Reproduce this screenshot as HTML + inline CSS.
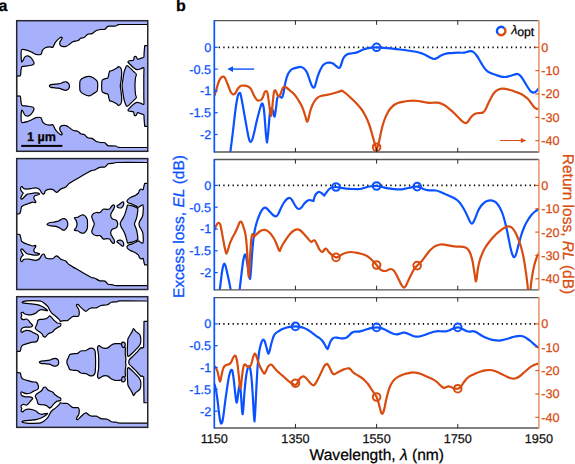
<!DOCTYPE html>
<html><head><meta charset="utf-8"><title>figure</title>
<style>html,body{margin:0;padding:0;background:#fff;overflow:hidden}svg{display:block}</style>
</head><body>
<svg width="575" height="464" viewBox="0 0 575 464">
<rect width="575" height="464" fill="#fff"/>
<clipPath id="cp0"><rect x="16.7" y="20.7" width="131.05" height="130.6"/></clipPath>
<g clip-path="url(#cp0)">
<rect x="16.7" y="20.7" width="131.05" height="130.6" fill="#A7B0FB"/>
<path d="M16.6 75.7C16.6 75.7 19.71 76.43 20.3 75.7C20.89 74.97 20.76 71.41 21 70.2C21.24 68.99 21.27 67.17 22.1 66.6C22.93 66.03 25.83 66.11 27.2 65.9C28.57 65.69 31.48 65.35 32.4 65C33.32 64.65 34.1 64.03 34.1 63.3C34.1 62.57 32.97 60.38 32.4 59.5C31.83 58.62 30.49 57.18 29.8 56.7C29.11 56.22 27.88 55.83 27.2 55.9C26.52 55.97 25.27 56.56 24.7 57.2C24.13 57.84 23.3 60.07 22.9 60.7C22.5 61.33 21.7 61.9 21.7 61.9C21.7 61.9 21.27 59.53 21.2 58.1C21.13 56.67 21.08 52.35 21.2 51.2C21.32 50.05 21.3 49.62 22.1 49.5C22.9 49.38 25.93 49.95 27.2 50.3C28.47 50.65 30.44 51.57 31.6 52.1C32.76 52.63 34.65 54.01 35.9 54.3C37.15 54.59 40.13 54.83 41 54.3C41.87 53.77 41.83 51.17 42.4 50.3C42.97 49.43 44.33 48.25 45.3 47.8C46.27 47.35 48.7 46.98 49.7 46.9C50.7 46.82 52.07 47.77 52.8 47.2C53.53 46.63 54.47 43.68 55.2 42.6C55.93 41.52 57.5 39.83 58.3 39.1C59.1 38.37 60.69 37.21 61.2 37.1C61.71 36.99 62.26 37.69 62.1 38.3C61.94 38.91 60.28 40.85 60 41.7C59.72 42.55 59.72 44.07 60 44.7C60.28 45.33 61.3 46.17 62.1 46.4C62.9 46.63 65.01 46.68 66 46.4C66.99 46.12 68.58 44.93 69.5 44.3C70.42 43.67 71.75 42.21 72.9 41.7C74.05 41.19 77.06 40.95 78.1 40.5C79.14 40.05 79.87 38.71 80.7 38.3C81.53 37.89 83.35 37.93 84.3 37.4C85.25 36.87 86.76 34.81 87.8 34.3C88.84 33.79 90.95 34.11 92.1 33.6C93.25 33.09 95.25 31.05 96.4 30.5C97.55 29.95 99.58 29.66 100.7 29.5C101.82 29.34 103.85 29.71 104.8 29.3C105.75 28.89 106.97 26.81 107.8 26.4C108.63 25.99 109.95 26.25 111 26.2C112.05 26.15 114.73 26.21 115.7 26C116.67 25.79 117.09 24.8 118.3 24.6C119.51 24.4 120.87 24.51 124.8 24.5C128.73 24.49 147.75 24.5 147.75 24.5C147.75 24.5 147.75 45.7 147.75 45.7C147.75 45.7 144.7 45.7 144.7 45.7C144.7 45.7 144.22 51.37 144.1 52.9C143.98 54.43 144.19 56.51 143.8 57.2C143.41 57.89 142 57.82 141.2 58.1C140.4 58.38 138.49 59.5 137.8 59.3C137.11 59.1 136.47 56.92 136 56.6C135.53 56.28 134.65 56.42 134.3 56.9C133.95 57.38 134.07 59.68 133.4 60.2C132.73 60.72 130.02 60.56 129.3 60.8C128.58 61.04 127.88 61.51 128 62C128.12 62.49 129.45 63.74 130.2 64.5C130.95 65.26 132.69 67.02 133.6 67.7C134.51 68.38 136.05 69.45 137 69.6C137.95 69.75 139.79 69.04 140.7 68.8C141.61 68.56 143.39 66.84 143.8 67.8C144.21 68.76 143.8 72.24 143.8 76C143.8 79.76 143.8 92.24 143.8 96C143.8 99.76 144.21 103.24 143.8 104.2C143.39 105.16 141.61 103.44 140.7 103.2C139.79 102.96 137.95 102.25 137 102.4C136.05 102.55 134.51 103.62 133.6 104.3C132.69 104.98 130.95 106.74 130.2 107.5C129.45 108.26 128.12 109.51 128 110C127.88 110.49 128.58 110.96 129.3 111.2C130.02 111.44 132.73 111.28 133.4 111.8C134.07 112.32 133.95 114.62 134.3 115.1C134.65 115.58 135.53 115.72 136 115.4C136.47 115.08 137.11 112.9 137.8 112.7C138.49 112.5 140.4 113.62 141.2 113.9C142 114.18 143.41 114.11 143.8 114.8C144.19 115.49 143.98 117.57 144.1 119.1C144.22 120.63 144.7 126.3 144.7 126.3C144.7 126.3 147.75 126.3 147.75 126.3C147.75 126.3 147.75 147.5 147.75 147.5C147.75 147.5 128.73 147.51 124.8 147.5C120.87 147.49 119.51 147.6 118.3 147.4C117.09 147.2 116.67 146.21 115.7 146C114.73 145.79 112.05 145.85 111 145.8C109.95 145.75 108.63 146.01 107.8 145.6C106.97 145.19 105.75 143.11 104.8 142.7C103.85 142.29 101.82 142.66 100.7 142.5C99.58 142.34 97.55 142.05 96.4 141.5C95.25 140.95 93.25 138.91 92.1 138.4C90.95 137.89 88.84 138.21 87.8 137.7C86.76 137.19 85.25 135.13 84.3 134.6C83.35 134.07 81.53 134.11 80.7 133.7C79.87 133.29 79.14 131.95 78.1 131.5C77.06 131.05 74.05 130.81 72.9 130.3C71.75 129.79 70.42 128.33 69.5 127.7C68.58 127.07 66.99 125.88 66 125.6C65.01 125.32 62.9 125.37 62.1 125.6C61.3 125.83 60.28 126.67 60 127.3C59.72 127.93 59.72 129.45 60 130.3C60.28 131.15 61.94 133.09 62.1 133.7C62.26 134.31 61.71 135.01 61.2 134.9C60.69 134.79 59.1 133.63 58.3 132.9C57.5 132.17 55.93 130.48 55.2 129.4C54.47 128.32 53.53 125.37 52.8 124.8C52.07 124.23 50.7 125.18 49.7 125.1C48.7 125.02 46.27 124.65 45.3 124.2C44.33 123.75 42.97 122.57 42.4 121.7C41.83 120.83 41.87 118.23 41 117.7C40.13 117.17 37.15 117.41 35.9 117.7C34.65 117.99 32.76 119.37 31.6 119.9C30.44 120.43 28.47 121.35 27.2 121.7C25.93 122.05 22.9 122.62 22.1 122.5C21.3 122.38 21.32 121.95 21.2 120.8C21.08 119.65 21.13 115.33 21.2 113.9C21.27 112.47 21.7 110.1 21.7 110.1C21.7 110.1 22.5 110.67 22.9 111.3C23.3 111.93 24.13 114.16 24.7 114.8C25.27 115.44 26.52 116.03 27.2 116.1C27.88 116.17 29.11 115.78 29.8 115.3C30.49 114.82 31.83 113.38 32.4 112.5C32.97 111.62 34.1 109.43 34.1 108.7C34.1 107.97 33.32 107.35 32.4 107C31.48 106.65 28.57 106.31 27.2 106.1C25.83 105.89 22.93 105.97 22.1 105.4C21.27 104.83 21.24 103.01 21 101.8C20.76 100.59 20.89 97.03 20.3 96.3C19.71 95.57 16.6 96.3 16.6 96.3C16.6 96.3 16.6 75.7 16.6 75.7Z" fill="#fff" stroke="#000" stroke-width="1.2" stroke-linejoin="round"/>
<path d="M49.3 86C49.3 85.63 50.37 84.83 51 84.6C51.63 84.37 53.07 84.39 54 84.3C54.93 84.21 57.07 84.05 58 83.9C58.93 83.75 60.27 83.43 61 83.2C61.73 82.97 62.83 82.39 63.5 82.2C64.17 82.01 65.33 81.65 66 81.8C66.67 81.95 68.03 82.74 68.5 83.3C68.97 83.86 69.5 85.27 69.5 86C69.5 86.73 68.97 88.23 68.5 88.8C68.03 89.37 66.67 90.15 66 90.3C65.33 90.45 64.17 90.09 63.5 89.9C62.83 89.71 61.73 89.13 61 88.9C60.27 88.67 58.93 88.36 58 88.2C57.07 88.04 54.93 87.81 54 87.7C53.07 87.59 51.63 87.63 51 87.4C50.37 87.17 49.3 86.37 49.3 86Z" fill="#A7B0FB" stroke="#000" stroke-width="1.2" stroke-linejoin="round"/>
<path d="M79.7 85.7C79.7 84.22 79.66 81.31 80.3 80.2C80.94 79.09 83.29 77.91 84.5 77.4C85.71 76.89 88.19 76.31 89.4 76.4C90.61 76.49 92.55 77.41 93.6 78.1C94.65 78.79 96.75 80.49 97.3 81.6C97.85 82.71 97.74 85.11 97.7 86.4C97.66 87.69 97.55 90.37 97 91.3C96.45 92.23 94.61 92.79 93.6 93.4C92.59 94.01 90.61 95.75 89.4 95.9C88.19 96.05 85.71 95.11 84.5 94.5C83.29 93.89 80.94 92.47 80.3 91.3C79.66 90.13 79.7 87.18 79.7 85.7Z" fill="#A7B0FB" stroke="#000" stroke-width="1.2" stroke-linejoin="round"/>
<path d="M101.6 86C101.6 84.48 101.71 81.29 102.2 80.3C102.69 79.31 104.54 78.93 105.3 78.6C106.06 78.27 107.43 78.37 107.9 77.8C108.37 77.23 108.56 75.18 108.8 74.3C109.04 73.42 109.25 71.71 109.7 71.2C110.15 70.69 111.28 70.89 112.2 70.5C113.12 70.11 115.79 68.82 116.6 68.3C117.41 67.78 117.73 66.6 118.3 66.6C118.87 66.6 120.45 67.5 120.9 68.3C121.35 69.1 121.66 71.11 121.7 72.6C121.74 74.09 121.39 77.71 121.2 79.5C121.01 81.29 120.3 84.27 120.3 86C120.3 87.73 121.01 90.71 121.2 92.5C121.39 94.29 121.74 97.91 121.7 99.4C121.66 100.89 121.35 102.9 120.9 103.7C120.45 104.5 118.87 105.4 118.3 105.4C117.73 105.4 117.41 104.22 116.6 103.7C115.79 103.18 113.12 101.89 112.2 101.5C111.28 101.11 110.15 101.31 109.7 100.8C109.25 100.29 109.04 98.58 108.8 97.7C108.56 96.82 108.37 94.77 107.9 94.2C107.43 93.63 106.06 93.73 105.3 93.4C104.54 93.07 102.69 92.69 102.2 91.7C101.71 90.71 101.6 87.52 101.6 86Z" fill="#A7B0FB" stroke="#000" stroke-width="1.2" stroke-linejoin="round"/>
<path d="M122.1 86C122.1 84.27 122.65 81.29 122.9 79.5C123.15 77.71 123.63 74.21 124 72.6C124.37 70.99 125.31 68.32 125.7 67.4C126.09 66.48 126.39 65.7 126.9 65.7C127.41 65.7 128.58 66.6 129.5 67.4C130.42 68.2 132.88 70.78 133.8 71.7C134.72 72.62 136.17 73.49 136.4 74.3C136.63 75.11 135.69 76.24 135.5 77.8C135.31 79.36 135 83.81 135 86C135 88.19 135.31 92.64 135.5 94.2C135.69 95.76 136.63 96.89 136.4 97.7C136.17 98.51 134.72 99.38 133.8 100.3C132.88 101.22 130.42 103.8 129.5 104.6C128.58 105.4 127.41 106.3 126.9 106.3C126.39 106.3 126.09 105.52 125.7 104.6C125.31 103.68 124.37 101.01 124 99.4C123.63 97.79 123.15 94.29 122.9 92.5C122.65 90.71 122.1 87.73 122.1 86Z" fill="#A7B0FB" stroke="#000" stroke-width="1.2" stroke-linejoin="round"/>
</g>
<rect x="16.7" y="20.7" width="131.05" height="130.6" fill="none" stroke="#26262c" stroke-width="1.5"/>
<clipPath id="cp1"><rect x="16.7" y="158.6" width="131.05" height="130.9"/></clipPath>
<g clip-path="url(#cp1)">
<rect x="16.7" y="158.6" width="131.05" height="130.9" fill="#A7B0FB"/>
<path d="M16.6 213.6C16.6 213.6 19.14 214.04 19.7 213.6C20.26 213.16 20.56 211.19 20.8 210.3C21.04 209.41 21.02 207.61 21.5 206.9C21.98 206.19 23.45 205.45 24.4 205C25.35 204.55 27.48 203.89 28.6 203.5C29.72 203.11 31.89 202.21 32.8 202.1C33.71 201.99 35.01 202.79 35.4 202.7C35.79 202.61 35.85 201.85 35.7 201.4C35.55 200.95 34.55 199.82 34.3 199.3C34.05 198.78 33.72 197.98 33.8 197.5C33.88 197.02 34.41 196.03 34.9 195.7C35.39 195.37 36.89 195.2 37.5 195C38.11 194.8 39.5 194.2 39.5 194.2C39.5 194.2 39.11 193.37 38.5 193.2C37.89 193.03 35.94 192.85 34.9 192.9C33.86 192.95 31.75 193.4 30.7 193.6C29.65 193.8 27.76 194.05 27 194.4C26.24 194.75 25.48 195.73 25 196.2C24.52 196.67 23.83 197.5 23.4 197.9C22.97 198.3 22.16 199.19 21.8 199.2C21.44 199.21 20.71 198.47 20.7 198C20.69 197.53 21.37 196.35 21.7 195.7C22.03 195.05 23.19 193.63 23.2 193.1C23.21 192.57 22.15 192.19 21.8 191.7C21.45 191.21 20.73 190 20.6 189.4C20.47 188.8 20.6 187.57 20.8 187.2C21 186.83 21.73 186.43 22.1 186.6C22.47 186.77 23.01 188.17 23.6 188.5C24.19 188.83 25.55 189.07 26.5 189.1C27.45 189.13 29.58 188.87 30.7 188.7C31.82 188.53 33.95 187.87 34.9 187.8C35.85 187.73 37.11 187.89 37.8 188.2C38.49 188.51 39.58 189.46 40.1 190.1C40.62 190.74 41.29 192.47 41.7 193C42.11 193.53 42.83 194.05 43.2 194.1C43.57 194.15 44.22 193.81 44.5 193.4C44.78 192.99 44.91 191.51 45.3 191C45.69 190.49 46.71 189.84 47.4 189.6C48.09 189.36 49.74 189.2 50.5 189.2C51.26 189.2 52.47 189.29 53.1 189.6C53.73 189.91 54.71 191.14 55.2 191.5C55.69 191.86 56.39 192.33 56.8 192.3C57.21 192.27 57.82 191.71 58.3 191.3C58.78 190.89 59.77 189.63 60.4 189.2C61.03 188.77 62.29 188.38 63 188.1C63.71 187.82 64.85 187.74 65.7 187.1C66.55 186.46 68.07 184.31 69.4 183.3C70.73 182.29 73.89 180.57 75.7 179.5C77.51 178.43 80.92 176.49 83 175.3C85.08 174.11 89.78 171.29 91.3 170.6C92.82 169.91 93.28 170.54 94.4 170.1C95.52 169.66 98.3 167.71 99.7 167.3C101.1 166.89 103.75 167.47 104.9 167C106.05 166.53 107.23 164.29 108.3 163.8C109.37 163.31 111.74 163.47 112.9 163.3C114.06 163.13 112.35 162.61 117 162.5C121.65 162.39 147.75 162.5 147.75 162.5C147.75 162.5 147.75 183.3 147.75 183.3C147.75 183.3 144.7 183.3 144.7 183.3C144.7 183.3 144.11 185.46 143.9 186.3C143.69 187.14 143.49 189.21 143.1 189.6C142.71 189.99 141.48 189.09 141 189.2C140.52 189.31 139.85 189.89 139.5 190.4C139.15 190.91 138.96 192.33 138.4 193C137.84 193.67 136.27 194.84 135.3 195.4C134.33 195.96 132.07 196.68 131.1 197.2C130.13 197.72 128.55 198.74 128 199.3C127.45 199.86 126.93 200.91 127 201.4C127.07 201.89 127.81 202.63 128.5 203C129.19 203.37 131.23 203.81 132.2 204.2C133.17 204.59 134.97 205.49 135.8 205.9C136.63 206.31 137.71 207.34 138.4 207.3C139.09 207.26 140.4 205.91 141 205.6C141.6 205.29 142.59 204.65 142.9 205C143.21 205.35 143.27 207.23 143.3 208.2C143.33 209.17 143.19 211.26 143.1 212.3C143.01 213.34 142.88 215.09 142.6 216C142.32 216.91 141.41 218.34 141 219.1C140.59 219.86 139.77 221.04 139.5 221.7C139.23 222.36 139.07 223.74 139 224.05C138.93 224.36 138.93 223.74 139 224.05C139.07 224.36 139.23 225.74 139.5 226.4C139.77 227.06 140.59 228.24 141 229C141.41 229.76 142.32 231.19 142.6 232.1C142.88 233.01 143.01 234.76 143.1 235.8C143.19 236.84 143.33 238.93 143.3 239.9C143.27 240.87 143.21 242.75 142.9 243.1C142.59 243.45 141.6 242.81 141 242.5C140.4 242.19 139.09 240.84 138.4 240.8C137.71 240.76 136.63 241.79 135.8 242.2C134.97 242.61 133.17 243.51 132.2 243.9C131.23 244.29 129.19 244.73 128.5 245.1C127.81 245.47 127.07 246.21 127 246.7C126.93 247.19 127.45 248.24 128 248.8C128.55 249.36 130.13 250.38 131.1 250.9C132.07 251.42 134.33 252.14 135.3 252.7C136.27 253.26 137.84 254.43 138.4 255.1C138.96 255.77 139.15 257.19 139.5 257.7C139.85 258.21 140.52 258.79 141 258.9C141.48 259.01 142.71 258.11 143.1 258.5C143.49 258.89 143.69 260.96 143.9 261.8C144.11 262.64 144.7 264.8 144.7 264.8C144.7 264.8 147.75 264.8 147.75 264.8C147.75 264.8 147.75 285.6 147.75 285.6C147.75 285.6 121.65 285.71 117 285.6C112.35 285.49 114.06 284.97 112.9 284.8C111.74 284.63 109.37 284.79 108.3 284.3C107.23 283.81 106.05 281.57 104.9 281.1C103.75 280.63 101.1 281.21 99.7 280.8C98.3 280.39 95.52 278.44 94.4 278C93.28 277.56 92.82 278.19 91.3 277.5C89.78 276.81 85.08 273.99 83 272.8C80.92 271.61 77.51 269.67 75.7 268.6C73.89 267.53 70.73 265.81 69.4 264.8C68.07 263.79 66.55 261.64 65.7 261C64.85 260.36 63.71 260.28 63 260C62.29 259.72 61.03 259.33 60.4 258.9C59.77 258.47 58.78 257.21 58.3 256.8C57.82 256.39 57.21 255.83 56.8 255.8C56.39 255.77 55.69 256.24 55.2 256.6C54.71 256.96 53.73 258.19 53.1 258.5C52.47 258.81 51.26 258.9 50.5 258.9C49.74 258.9 48.09 258.74 47.4 258.5C46.71 258.26 45.69 257.61 45.3 257.1C44.91 256.59 44.78 255.11 44.5 254.7C44.22 254.29 43.57 253.95 43.2 254C42.83 254.05 42.11 254.57 41.7 255.1C41.29 255.63 40.62 257.36 40.1 258C39.58 258.64 38.49 259.59 37.8 259.9C37.11 260.21 35.85 260.37 34.9 260.3C33.95 260.23 31.82 259.57 30.7 259.4C29.58 259.23 27.45 258.97 26.5 259C25.55 259.03 24.19 259.27 23.6 259.6C23.01 259.93 22.47 261.33 22.1 261.5C21.73 261.67 21 261.27 20.8 260.9C20.6 260.53 20.47 259.3 20.6 258.7C20.73 258.1 21.45 256.89 21.8 256.4C22.15 255.91 23.21 255.53 23.2 255C23.19 254.47 22.03 253.05 21.7 252.4C21.37 251.75 20.69 250.57 20.7 250.1C20.71 249.63 21.44 248.89 21.8 248.9C22.16 248.91 22.97 249.8 23.4 250.2C23.83 250.6 24.52 251.43 25 251.9C25.48 252.37 26.24 253.35 27 253.7C27.76 254.05 29.65 254.3 30.7 254.5C31.75 254.7 33.86 255.15 34.9 255.2C35.94 255.25 37.89 255.07 38.5 254.9C39.11 254.73 39.5 253.9 39.5 253.9C39.5 253.9 38.11 253.3 37.5 253.1C36.89 252.9 35.39 252.73 34.9 252.4C34.41 252.07 33.88 251.08 33.8 250.6C33.72 250.12 34.05 249.32 34.3 248.8C34.55 248.28 35.55 247.15 35.7 246.7C35.85 246.25 35.79 245.49 35.4 245.4C35.01 245.31 33.71 246.11 32.8 246C31.89 245.89 29.72 244.99 28.6 244.6C27.48 244.21 25.35 243.55 24.4 243.1C23.45 242.65 21.98 241.91 21.5 241.2C21.02 240.49 21.04 238.69 20.8 237.8C20.56 236.91 20.26 234.94 19.7 234.5C19.14 234.06 16.6 234.5 16.6 234.5C16.6 234.5 16.6 213.6 16.6 213.6Z" fill="#fff" stroke="#000" stroke-width="1.2" stroke-linejoin="round"/>
<path d="M47.2 224.2C47.41 223.89 48.26 223.01 49.3 222.7C50.34 222.39 53.68 222.17 55 221.9C56.32 221.63 58.29 221.09 59.2 220.7C60.11 220.31 61.11 219.28 61.8 219C62.49 218.72 63.75 218.43 64.4 218.6C65.05 218.77 66.25 219.58 66.7 220.3C67.15 221.02 67.76 223.07 67.8 224C67.84 224.93 67.37 226.54 67 227.3C66.63 228.06 65.55 229.33 65 229.7C64.45 230.07 63.53 230.3 62.9 230.1C62.27 229.9 61.21 228.71 60.3 228.2C59.39 227.69 57.35 226.61 56.1 226.3C54.85 225.99 52.02 226.07 50.9 225.9C49.78 225.73 48.19 225.23 47.7 225C47.21 224.77 46.99 224.51 47.2 224.2Z" fill="#A7B0FB" stroke="#000" stroke-width="1.2" stroke-linejoin="round"/>
<path d="M74.3 217.8C74.5 217.39 76.68 217.65 77.6 217.3C78.52 216.95 80.37 215.51 81.2 215.2C82.03 214.89 83.13 214.72 83.8 215C84.47 215.28 85.72 216.61 86.2 217.3C86.68 217.99 87.23 219.3 87.4 220.2C87.57 221.1 87.5 223.02 87.5 224.05C87.5 225.08 87.57 227 87.4 227.9C87.23 228.8 86.68 230.11 86.2 230.8C85.72 231.49 84.47 232.82 83.8 233.1C83.13 233.38 82.03 233.21 81.2 232.9C80.37 232.59 78.52 231.15 77.6 230.8C76.68 230.45 74.5 230.71 74.3 230.3C74.1 229.89 75.73 228.53 76.1 227.7C76.47 226.87 77.1 225.02 77.1 224.05C77.1 223.08 76.47 221.23 76.1 220.4C75.73 219.57 74.1 218.21 74.3 217.8Z" fill="#A7B0FB" stroke="#000" stroke-width="1.2" stroke-linejoin="round"/>
<path d="M94.3 224.05C94.3 222.97 93.15 221.03 92.8 220C92.45 218.97 91.63 217.14 91.7 216.3C91.77 215.46 92.67 214.21 93.3 213.7C93.93 213.19 95.49 212.66 96.4 212.5C97.31 212.34 99.33 212.82 100.1 212.5C100.87 212.18 101.72 210.57 102.2 210.1C102.68 209.63 103.07 209.09 103.7 209C104.33 208.91 106.13 209.4 106.9 209.4C107.67 209.4 108.95 209.32 109.5 209C110.05 208.68 110.59 207.51 111 207C111.41 206.49 112.2 205.48 112.6 205.2C113 204.92 113.75 204.74 114 204.9C114.25 205.06 114.54 205.85 114.5 206.4C114.46 206.95 114.02 208.29 113.7 209C113.38 209.71 112.49 210.99 112.1 211.7C111.71 212.41 110.95 213.61 110.8 214.3C110.65 214.99 110.76 216.27 111 216.9C111.24 217.53 111.97 218.59 112.6 219C113.23 219.41 115.07 219.63 115.7 220C116.33 220.37 117.05 221.26 117.3 221.8C117.55 222.34 117.6 223.45 117.6 224.05C117.6 224.65 117.55 225.76 117.3 226.3C117.05 226.84 116.33 227.73 115.7 228.1C115.07 228.47 113.23 228.69 112.6 229.1C111.97 229.51 111.24 230.57 111 231.2C110.76 231.83 110.65 233.11 110.8 233.8C110.95 234.49 111.71 235.69 112.1 236.4C112.49 237.11 113.38 238.39 113.7 239.1C114.02 239.81 114.46 241.15 114.5 241.7C114.54 242.25 114.25 243.04 114 243.2C113.75 243.36 113 243.18 112.6 242.9C112.2 242.62 111.41 241.61 111 241.1C110.59 240.59 110.05 239.42 109.5 239.1C108.95 238.78 107.67 238.7 106.9 238.7C106.13 238.7 104.33 239.19 103.7 239.1C103.07 239.01 102.68 238.47 102.2 238C101.72 237.53 100.87 235.92 100.1 235.6C99.33 235.28 97.31 235.76 96.4 235.6C95.49 235.44 93.93 234.91 93.3 234.4C92.67 233.89 91.77 232.64 91.7 231.8C91.63 230.96 92.45 229.13 92.8 228.1C93.15 227.07 94.3 225.13 94.3 224.05Z" fill="#A7B0FB" stroke="#000" stroke-width="1.2" stroke-linejoin="round"/>
<path d="M117 206.1C117.2 205.73 118.47 204.99 119.1 204.5C119.73 204.01 121.17 202.75 121.7 202.4C122.23 202.05 122.82 201.75 123.1 201.9C123.38 202.05 123.8 202.94 123.8 203.5C123.8 204.06 123.38 205.54 123.1 206.1C122.82 206.66 122.15 207.45 121.7 207.7C121.25 207.95 120.25 208.05 119.7 208C119.15 207.95 117.96 207.55 117.6 207.3C117.24 207.05 116.8 206.47 117 206.1Z" fill="#A7B0FB" stroke="#000" stroke-width="1.2" stroke-linejoin="round"/>
<path d="M117 242C117.2 242.37 118.47 243.11 119.1 243.6C119.73 244.09 121.17 245.35 121.7 245.7C122.23 246.05 122.82 246.35 123.1 246.2C123.38 246.05 123.8 245.16 123.8 244.6C123.8 244.04 123.38 242.56 123.1 242C122.82 241.44 122.15 240.65 121.7 240.4C121.25 240.15 120.25 240.05 119.7 240.1C119.15 240.15 117.96 240.55 117.6 240.8C117.24 241.05 116.8 241.63 117 242Z" fill="#A7B0FB" stroke="#000" stroke-width="1.2" stroke-linejoin="round"/>
<path d="M120.2 224.05C120.2 223.16 120.99 221.56 121.4 220.7C121.81 219.84 122.79 218.57 123.3 217.6C123.81 216.63 124.79 214.52 125.2 213.4C125.61 212.28 126.09 210.32 126.4 209.2C126.71 208.08 127.5 205 127.5 205C127.5 205 131.09 205.59 132.2 205.9C133.31 206.21 135.04 206.93 135.8 207.3C136.56 207.67 137.9 208.7 137.9 208.7C137.9 208.7 137.76 211.11 137.6 212.3C137.44 213.49 137.05 216.27 136.7 217.6C136.35 218.93 135.31 221.44 135 222.3C134.69 223.16 134.4 223.58 134.4 224.05C134.4 224.52 134.69 224.94 135 225.8C135.31 226.66 136.35 229.17 136.7 230.5C137.05 231.83 137.44 234.61 137.6 235.8C137.76 236.99 137.9 239.4 137.9 239.4C137.9 239.4 136.56 240.43 135.8 240.8C135.04 241.17 133.31 241.89 132.2 242.2C131.09 242.51 127.5 243.1 127.5 243.1C127.5 243.1 126.71 240.02 126.4 238.9C126.09 237.78 125.61 235.82 125.2 234.7C124.79 233.58 123.81 231.47 123.3 230.5C122.79 229.53 121.81 228.26 121.4 227.4C120.99 226.54 120.2 224.94 120.2 224.05Z" fill="#A7B0FB" stroke="#000" stroke-width="1.2" stroke-linejoin="round"/>
</g>
<rect x="16.7" y="158.6" width="131.05" height="130.9" fill="none" stroke="#26262c" stroke-width="1.5"/>
<clipPath id="cp2"><rect x="16.7" y="296.7" width="131.05" height="130.65"/></clipPath>
<g clip-path="url(#cp2)">
<rect x="16.7" y="296.7" width="131.05" height="130.65" fill="#A7B0FB"/>
<path d="M16.6 351.4C16.6 351.4 19.69 351.57 20.3 351C20.91 350.43 20.85 347.9 21.2 347.1C21.55 346.3 22.1 345.47 22.9 345C23.7 344.53 25.93 343.97 27.2 343.6C28.47 343.23 31.24 342.43 32.4 342.2C33.56 341.97 35.21 342.13 35.9 341.9C36.59 341.67 37.6 340.5 37.6 340.5C37.6 340.5 38.51 337.57 38.5 336.8C38.49 336.03 38.13 335.22 37.5 334.7C36.87 334.18 34.71 333.38 33.8 332.9C32.89 332.42 31.67 331.43 30.7 331.1C29.73 330.77 27.47 330.36 26.5 330.4C25.53 330.44 24.04 331.15 23.4 331.4C22.76 331.65 22.03 332.41 21.7 332.3C21.37 332.19 20.85 331.15 20.9 330.6C20.95 330.05 21.49 328.65 22.1 328.2C22.71 327.75 24.49 327.33 25.5 327.2C26.51 327.07 28.85 327.29 29.7 327.2C30.55 327.11 31.51 326.75 31.9 326.5C32.29 326.25 32.76 325.74 32.6 325.3C32.44 324.86 31.23 323.83 30.7 323.2C30.17 322.57 29.16 321.16 28.6 320.6C28.04 320.04 27.19 319.13 26.5 319C25.81 318.87 24.09 319.67 23.4 319.6C22.71 319.53 21.61 318.85 21.3 318.5C20.99 318.15 21.03 317.41 21.1 317C21.17 316.59 21.8 315.89 21.8 315.4C21.8 314.91 21.14 313.69 21.1 313.3C21.06 312.91 21.22 312.62 21.5 312.5C21.78 312.38 22.81 312.23 23.2 312.4C23.59 312.57 23.68 313.47 24.4 313.8C25.12 314.13 27.48 314.83 28.6 314.9C29.72 314.97 31.76 314.58 32.8 314.3C33.84 314.02 35.64 313.28 36.4 312.8C37.16 312.32 37.79 311.11 38.5 310.7C39.21 310.29 40.79 309.74 41.7 309.7C42.61 309.66 44.51 310.27 45.3 310.4C46.09 310.53 47.6 310.7 47.6 310.7C47.6 310.7 46.74 309.7 46.3 309.3C45.86 308.9 44.99 308.14 44.3 307.7C43.61 307.26 42.07 306.4 41.1 306C40.13 305.6 38.25 304.98 37 304.7C35.75 304.42 33.1 304.07 31.7 303.9C30.3 303.73 27.67 303.53 26.5 303.4C25.33 303.27 23.46 303.1 22.9 302.9C22.34 302.7 21.82 302.17 22.3 301.9C22.78 301.63 25.1 301.06 26.5 300.9C27.9 300.74 30.92 300.67 32.8 300.7C34.68 300.73 39.07 300.77 40.6 301.1C42.13 301.43 43.33 302.45 44.3 303.2C45.27 303.95 47.14 305.7 47.9 306.7C48.66 307.7 49.4 309.75 50 310.7C50.6 311.65 51.64 313.07 52.4 313.8C53.16 314.53 54.81 315.45 55.7 316.2C56.59 316.95 58.49 318.72 59.1 319.4C59.71 320.08 60.3 321.3 60.3 321.3C60.3 321.3 62.94 320.69 63.9 320.6C64.86 320.51 66.59 320.95 67.5 320.6C68.41 320.25 69.93 318.56 70.7 318C71.47 317.44 72.33 316.61 73.3 316.4C74.27 316.19 77.21 316.68 78 316.4C78.79 316.12 79.09 315.19 79.2 314.3C79.31 313.41 79.11 310.74 78.8 309.7C78.49 308.66 77.22 307.13 76.9 306.5C76.58 305.87 76.25 305.25 76.4 305C76.55 304.75 77.37 304.25 78 304.6C78.63 304.95 80.21 306.79 81.1 307.6C81.99 308.41 84.01 310.22 84.7 310.7C85.39 311.18 85.74 311.41 86.3 311.2C86.86 310.99 88.21 309.54 88.9 309.1C89.59 308.66 90.5 308.06 91.5 307.9C92.5 307.74 95.15 308.22 96.4 307.9C97.65 307.58 99.43 305.91 100.9 305.5C102.37 305.09 106.01 305.23 107.4 304.8C108.79 304.37 110.02 302.7 111.3 302.3C112.58 301.9 115.81 301.99 117 301.8C118.19 301.61 116.1 301.01 120.2 300.9C124.3 300.79 147.75 301 147.75 301C147.75 301 147.75 321.3 147.75 321.3C147.75 321.3 144 321.3 144 321.3C144 321.3 143.7 347 143.7 347C143.7 347 142.37 348.11 142 348.2C141.63 348.29 141.53 347.22 140.9 347.7C140.27 348.18 138.31 350.72 137.3 351.8C136.29 352.88 134.37 354.73 133.3 355.8C132.23 356.87 129.9 358.97 129.3 359.8C128.7 360.63 128.87 361.73 128.8 362.03C128.73 362.33 128.73 361.72 128.8 362.02C128.87 362.32 128.7 363.42 129.3 364.25C129.9 365.08 132.23 367.18 133.3 368.25C134.37 369.32 136.29 371.17 137.3 372.25C138.31 373.33 140.27 375.87 140.9 376.35C141.53 376.83 141.63 375.76 142 375.85C142.37 375.94 143.7 377.05 143.7 377.05C143.7 377.05 144 402.75 144 402.75C144 402.75 147.75 402.75 147.75 402.75C147.75 402.75 147.75 423.05 147.75 423.05C147.75 423.05 124.3 423.26 120.2 423.15C116.1 423.04 118.19 422.44 117 422.25C115.81 422.06 112.58 422.15 111.3 421.75C110.02 421.35 108.79 419.68 107.4 419.25C106.01 418.82 102.37 418.96 100.9 418.55C99.43 418.14 97.65 416.47 96.4 416.15C95.15 415.83 92.5 416.31 91.5 416.15C90.5 415.99 89.59 415.39 88.9 414.95C88.21 414.51 86.86 413.06 86.3 412.85C85.74 412.64 85.39 412.87 84.7 413.35C84.01 413.83 81.99 415.64 81.1 416.45C80.21 417.26 78.63 419.1 78 419.45C77.37 419.8 76.55 419.3 76.4 419.05C76.25 418.8 76.58 418.18 76.9 417.55C77.22 416.92 78.49 415.39 78.8 414.35C79.11 413.31 79.31 410.64 79.2 409.75C79.09 408.86 78.79 407.93 78 407.65C77.21 407.37 74.27 407.86 73.3 407.65C72.33 407.44 71.47 406.61 70.7 406.05C69.93 405.49 68.41 403.8 67.5 403.45C66.59 403.1 64.86 403.54 63.9 403.45C62.94 403.36 60.3 402.75 60.3 402.75C60.3 402.75 59.71 403.97 59.1 404.65C58.49 405.33 56.59 407.1 55.7 407.85C54.81 408.6 53.16 409.52 52.4 410.25C51.64 410.98 50.6 412.4 50 413.35C49.4 414.3 48.66 416.35 47.9 417.35C47.14 418.35 45.27 420.1 44.3 420.85C43.33 421.6 42.13 422.62 40.6 422.95C39.07 423.28 34.68 423.32 32.8 423.35C30.92 423.38 27.9 423.31 26.5 423.15C25.1 422.99 22.78 422.42 22.3 422.15C21.82 421.88 22.34 421.35 22.9 421.15C23.46 420.95 25.33 420.78 26.5 420.65C27.67 420.52 30.3 420.32 31.7 420.15C33.1 419.98 35.75 419.63 37 419.35C38.25 419.07 40.13 418.45 41.1 418.05C42.07 417.65 43.61 416.79 44.3 416.35C44.99 415.91 45.86 415.15 46.3 414.75C46.74 414.35 47.6 413.35 47.6 413.35C47.6 413.35 46.09 413.52 45.3 413.65C44.51 413.78 42.61 414.39 41.7 414.35C40.79 414.31 39.21 413.76 38.5 413.35C37.79 412.94 37.16 411.73 36.4 411.25C35.64 410.77 33.84 410.03 32.8 409.75C31.76 409.47 29.72 409.08 28.6 409.15C27.48 409.22 25.12 409.92 24.4 410.25C23.68 410.58 23.59 411.48 23.2 411.65C22.81 411.82 21.78 411.67 21.5 411.55C21.22 411.43 21.06 411.14 21.1 410.75C21.14 410.36 21.8 409.14 21.8 408.65C21.8 408.16 21.17 407.46 21.1 407.05C21.03 406.64 20.99 405.9 21.3 405.55C21.61 405.2 22.71 404.52 23.4 404.45C24.09 404.38 25.81 405.18 26.5 405.05C27.19 404.92 28.04 404.01 28.6 403.45C29.16 402.89 30.17 401.48 30.7 400.85C31.23 400.22 32.44 399.19 32.6 398.75C32.76 398.31 32.29 397.8 31.9 397.55C31.51 397.3 30.55 396.94 29.7 396.85C28.85 396.76 26.51 396.98 25.5 396.85C24.49 396.72 22.71 396.3 22.1 395.85C21.49 395.4 20.95 394 20.9 393.45C20.85 392.9 21.37 391.86 21.7 391.75C22.03 391.64 22.76 392.4 23.4 392.65C24.04 392.9 25.53 393.61 26.5 393.65C27.47 393.69 29.73 393.28 30.7 392.95C31.67 392.62 32.89 391.63 33.8 391.15C34.71 390.67 36.87 389.87 37.5 389.35C38.13 388.83 38.49 388.02 38.5 387.25C38.51 386.48 37.6 383.55 37.6 383.55C37.6 383.55 36.59 382.38 35.9 382.15C35.21 381.92 33.56 382.08 32.4 381.85C31.24 381.62 28.47 380.82 27.2 380.45C25.93 380.08 23.7 379.52 22.9 379.05C22.1 378.58 21.55 377.75 21.2 376.95C20.85 376.15 20.91 373.62 20.3 373.05C19.69 372.48 16.6 372.65 16.6 372.65C16.6 372.65 16.6 351.4 16.6 351.4Z" fill="#fff" stroke="#000" stroke-width="1.2" stroke-linejoin="round"/>
<path d="M57.2 323C57.2 323 54.89 321.19 54.1 320.4C53.31 319.61 51.91 317.7 51.3 317.1C50.69 316.5 49.5 315.9 49.5 315.9C49.5 315.9 48.09 317.46 47.4 317.9C46.71 318.34 45.27 319 44.3 319.2C43.33 319.4 40.95 319.24 40.1 319.4C39.25 319.56 38.33 319.75 37.9 320.4C37.47 321.05 37.23 323.37 36.9 324.3C36.57 325.23 35.48 326.68 35.4 327.4C35.32 328.12 35.78 329.13 36.3 329.7C36.82 330.27 38.54 331.15 39.3 331.7C40.06 332.25 41.49 333.23 42 333.8C42.51 334.37 43.1 336 43.1 336C43.1 336 44.59 337.31 45.3 337C46.01 336.69 47.43 334.35 48.4 333.7C49.37 333.05 51.76 332.66 52.6 332.1C53.44 331.54 54.01 330.13 54.7 329.5C55.39 328.87 57.03 327.87 57.8 327.4C58.57 326.93 60.13 326.52 60.5 326C60.87 325.48 61.04 323.9 60.6 323.5C60.16 323.1 57.2 323 57.2 323Z" fill="#A7B0FB" stroke="#000" stroke-width="1.2" stroke-linejoin="round"/>
<path d="M57.2 401.05C57.2 401.05 54.89 402.86 54.1 403.65C53.31 404.44 51.91 406.35 51.3 406.95C50.69 407.55 49.5 408.15 49.5 408.15C49.5 408.15 48.09 406.59 47.4 406.15C46.71 405.71 45.27 405.05 44.3 404.85C43.33 404.65 40.95 404.81 40.1 404.65C39.25 404.49 38.33 404.3 37.9 403.65C37.47 403 37.23 400.68 36.9 399.75C36.57 398.82 35.48 397.37 35.4 396.65C35.32 395.93 35.78 394.92 36.3 394.35C36.82 393.78 38.54 392.9 39.3 392.35C40.06 391.8 41.49 390.82 42 390.25C42.51 389.68 43.1 388.05 43.1 388.05C43.1 388.05 44.59 386.74 45.3 387.05C46.01 387.36 47.43 389.7 48.4 390.35C49.37 391 51.76 391.39 52.6 391.95C53.44 392.51 54.01 393.92 54.7 394.55C55.39 395.18 57.03 396.18 57.8 396.65C58.57 397.12 60.13 397.53 60.5 398.05C60.87 398.57 61.04 400.15 60.6 400.55C60.16 400.95 57.2 401.05 57.2 401.05Z" fill="#A7B0FB" stroke="#000" stroke-width="1.2" stroke-linejoin="round"/>
<path d="M39.3 362.2C39.3 361.92 40.31 361.39 41 361.2C41.69 361.01 43.37 360.93 44.5 360.8C45.63 360.67 48.43 360.45 49.5 360.2C50.57 359.95 51.7 359.15 52.5 358.9C53.3 358.65 54.77 358.18 55.5 358.3C56.23 358.42 57.57 359.28 58 359.8C58.43 360.32 58.7 361.53 58.7 362.2C58.7 362.87 58.43 364.27 58 364.8C57.57 365.33 56.23 366.09 55.5 366.2C54.77 366.31 53.3 365.87 52.5 365.6C51.7 365.33 50.57 364.45 49.5 364.2C48.43 363.95 45.63 363.82 44.5 363.7C43.37 363.58 41.69 363.5 41 363.3C40.31 363.1 39.3 362.48 39.3 362.2Z" fill="#A7B0FB" stroke="#000" stroke-width="1.2" stroke-linejoin="round"/>
<path d="M66.9 362.03C66.9 361.57 66.91 360.86 67.1 360.3C67.29 359.74 67.94 358.57 68.3 357.8C68.66 357.03 69.11 355.05 69.8 354.5C70.49 353.95 72.45 353.85 73.5 353.7C74.55 353.55 76.73 353.76 77.7 353.4C78.67 353.04 79.69 351.39 80.8 351C81.91 350.61 84.81 350.85 86 350.5C87.19 350.15 88.79 348.68 89.7 348.4C90.61 348.12 92.11 348.12 92.8 348.4C93.49 348.68 94.55 349.66 94.9 350.5C95.25 351.34 95.31 353.16 95.4 354.7C95.49 356.24 95.6 360.08 95.6 362.03C95.6 363.98 95.49 367.81 95.4 369.35C95.31 370.89 95.25 372.71 94.9 373.55C94.55 374.39 93.49 375.37 92.8 375.65C92.11 375.93 90.61 375.93 89.7 375.65C88.79 375.37 87.19 373.9 86 373.55C84.81 373.2 81.91 373.44 80.8 373.05C79.69 372.66 78.67 371.01 77.7 370.65C76.73 370.29 74.55 370.5 73.5 370.35C72.45 370.2 70.49 370.1 69.8 369.55C69.11 369 68.66 367.02 68.3 366.25C67.94 365.48 67.29 364.31 67.1 363.75C66.91 363.19 66.9 362.49 66.9 362.03Z" fill="#A7B0FB" stroke="#000" stroke-width="1.2" stroke-linejoin="round"/>
<path d="M98.7 362.03C98.7 360.08 98.66 356.52 98.5 354.7C98.34 352.88 97.57 349.52 97.5 348.4C97.43 347.28 97.8 346.69 98 346.3C98.2 345.91 98.59 345.42 99 345.5C99.41 345.58 100.47 346.54 101.1 346.9C101.73 347.26 102.79 348.07 103.7 348.2C104.61 348.33 106.93 348.29 107.9 347.9C108.87 347.51 110.03 345.86 111 345.3C111.97 344.74 114.08 343.91 115.2 343.7C116.32 343.49 118.49 343.61 119.4 343.7C120.31 343.79 121.39 344.09 122 344.4C122.61 344.71 123.55 345.51 124 346C124.45 346.49 125.24 347.13 125.4 348.1C125.56 349.07 125.13 351.91 125.2 353.3C125.27 354.69 125.85 357.34 125.9 358.5C125.95 359.66 125.6 361.09 125.6 362.03C125.6 362.97 125.95 364.39 125.9 365.55C125.85 366.71 125.27 369.36 125.2 370.75C125.13 372.14 125.56 374.98 125.4 375.95C125.24 376.92 124.45 377.56 124 378.05C123.55 378.54 122.61 379.34 122 379.65C121.39 379.96 120.31 380.26 119.4 380.35C118.49 380.44 116.32 380.56 115.2 380.35C114.08 380.14 111.97 379.31 111 378.75C110.03 378.19 108.87 376.54 107.9 376.15C106.93 375.76 104.61 375.72 103.7 375.85C102.79 375.98 101.73 376.79 101.1 377.15C100.47 377.51 99.41 378.47 99 378.55C98.59 378.63 98.2 378.14 98 377.75C97.8 377.36 97.43 376.77 97.5 375.65C97.57 374.53 98.34 371.17 98.5 369.35C98.66 367.53 98.7 363.98 98.7 362.03Z" fill="#A7B0FB" stroke="#000" stroke-width="1.2" stroke-linejoin="round"/>
<path d="M121.7 343C121.85 342.44 122.69 342.2 123.1 342.2C123.51 342.2 124.51 342.67 124.8 343C125.09 343.33 125.34 344.19 125.3 344.7C125.26 345.21 124.79 346.43 124.5 346.8C124.21 347.17 123.43 347.55 123.1 347.5C122.77 347.45 122.19 347 122 346.4C121.81 345.8 121.55 343.56 121.7 343Z" fill="#A7B0FB" stroke="#000" stroke-width="1.2" stroke-linejoin="round"/>
<path d="M121.7 381.05C121.85 381.61 122.69 381.85 123.1 381.85C123.51 381.85 124.51 381.38 124.8 381.05C125.09 380.72 125.34 379.86 125.3 379.35C125.26 378.84 124.79 377.62 124.5 377.25C124.21 376.88 123.43 376.5 123.1 376.55C122.77 376.6 122.19 377.05 122 377.65C121.81 378.25 121.55 380.49 121.7 381.05Z" fill="#A7B0FB" stroke="#000" stroke-width="1.2" stroke-linejoin="round"/>
<path d="M133.5 328.5C133.98 328.5 135 330.63 135.8 331.4C136.6 332.17 138.87 333.61 139.5 334.3C140.13 334.99 140.33 335.6 140.5 336.6C140.67 337.6 140.93 340.61 140.8 341.8C140.67 342.99 140.17 344.45 139.5 345.5C138.83 346.55 136.84 348.59 135.8 349.7C134.76 350.81 132.67 352.91 131.7 353.8C130.73 354.69 129.06 356.19 128.5 356.4C127.94 356.61 127.66 356.09 127.5 355.4C127.34 354.71 127.3 352.59 127.3 351.2C127.3 349.81 127.41 346.67 127.5 345C127.59 343.33 127.65 340.03 128 338.7C128.35 337.37 129.54 335.97 130.1 335C130.66 334.03 131.75 332.27 132.2 331.4C132.65 330.53 133.02 328.5 133.5 328.5Z" fill="#A7B0FB" stroke="#000" stroke-width="1.2" stroke-linejoin="round"/>
<path d="M133.5 395.55C133.98 395.55 135 393.42 135.8 392.65C136.6 391.88 138.87 390.44 139.5 389.75C140.13 389.06 140.33 388.45 140.5 387.45C140.67 386.45 140.93 383.44 140.8 382.25C140.67 381.06 140.17 379.6 139.5 378.55C138.83 377.5 136.84 375.46 135.8 374.35C134.76 373.24 132.67 371.14 131.7 370.25C130.73 369.36 129.06 367.86 128.5 367.65C127.94 367.44 127.66 367.96 127.5 368.65C127.34 369.34 127.3 371.46 127.3 372.85C127.3 374.24 127.41 377.38 127.5 379.05C127.59 380.72 127.65 384.02 128 385.35C128.35 386.68 129.54 388.08 130.1 389.05C130.66 390.02 131.75 391.78 132.2 392.65C132.65 393.52 133.02 395.55 133.5 395.55Z" fill="#A7B0FB" stroke="#000" stroke-width="1.2" stroke-linejoin="round"/>
</g>
<rect x="16.7" y="296.7" width="131.05" height="130.65" fill="none" stroke="#26262c" stroke-width="1.5"/>
<rect x="21.2" y="144.9" width="41.2" height="2" fill="#000"/>
<text x="27.1" y="140.5" font-family="Liberation Sans, sans-serif" text-rendering="geometricPrecision" font-size="12.6" font-weight="bold" fill="#000" stroke="#000" stroke-width="0.25">1 µm</text>
<text x="-1.5" y="11" font-family="Liberation Sans, sans-serif" text-rendering="geometricPrecision" font-size="16" font-weight="bold" fill="#000" stroke="#000" stroke-width="0.25">a</text>
<text x="176" y="11" font-family="Liberation Sans, sans-serif" text-rendering="geometricPrecision" font-size="16" font-weight="bold" fill="#000" stroke="#000" stroke-width="0.25">b</text>
<clipPath id="cc0"><rect x="214.3" y="20.7" width="324.6" height="131.3"/></clipPath>
<line x1="218.65" y1="47.3" x2="538.9" y2="47.3" stroke="#000" stroke-width="1.7" stroke-dasharray="1.3 3.34"/>
<g clip-path="url(#cc0)" fill="none" stroke-linejoin="round" stroke-linecap="round">
<path d="M230.2 153C230.2 153 231.58 142.5 232.5 135C233.42 127.5 234.82 114.5 235.7 108C236.58 101.5 237.18 98.5 237.8 96C238.42 93.5 238.87 93 239.4 93C239.93 93 240.07 91.83 241 96C241.93 100.17 243.75 111.17 245 118C246.25 124.83 247.57 133 248.5 137C249.43 141 249.88 141.83 250.6 142C251.32 142.17 251.73 141.67 252.8 138C253.87 134.33 255.72 125.17 257 120C258.28 114.83 259.6 109.73 260.5 107C261.4 104.27 261.82 103.1 262.4 103.6C262.98 104.1 263.4 104.77 264 110C264.6 115.23 265.5 129.6 266 135C266.5 140.4 267 142.4 267 142.4C267 142.4 267.5 140.07 268 135C268.5 129.93 269.42 116.5 270 112C270.58 107.5 271 108.17 271.5 108C272 107.83 272.48 109.57 273 111C273.52 112.43 274.1 117.1 274.6 116.6C275.1 116.1 275.55 111.1 276 108C276.45 104.9 276.8 100 277.3 98C277.8 96 278.22 96.07 279 96C279.78 95.93 281.25 98.1 282 97.6C282.75 97.1 282.92 95.6 283.5 93C284.08 90.4 284.75 85.17 285.5 82C286.25 78.83 287.08 76 288 74C288.92 72 290 70.93 291 70C292 69.07 292.83 68.85 294 68.4C295.17 67.95 296.83 67.53 298 67.3C299.17 67.07 300 66.8 301 67C302 67.2 303 67.58 304 68.5C305 69.42 306 70.42 307 72.5C308 74.58 309.17 78.75 310 81C310.83 83.25 311.43 84.9 312 86C312.57 87.1 312.9 87.6 313.4 87.6C313.9 87.6 314.32 87.77 315 86C315.68 84.23 316.67 79.58 317.5 77C318.33 74.42 319.17 72.33 320 70.5C320.83 68.67 321.83 67.02 322.5 66C323.17 64.98 323.25 64.93 324 64.4C324.75 63.87 326 63.1 327 62.8C328 62.5 329 62.48 330 62.6C331 62.72 332 62.93 333 63.5C334 64.07 334.93 65.25 336 66C337.07 66.75 338.57 68.17 339.4 68C340.23 67.83 340.4 66.5 341 65C341.6 63.5 342.33 60.5 343 59C343.67 57.5 344.25 56.78 345 56C345.75 55.22 346.67 54.7 347.5 54.3C348.33 53.9 348.92 53.82 350 53.6C351.08 53.38 352.83 53.2 354 53C355.17 52.8 355.67 52.9 357 52.4C358.33 51.9 360.5 50.63 362 50C363.5 49.37 364.5 49 366 48.6C367.5 48.2 369.23 47.82 371 47.6C372.77 47.38 374.6 47.27 376.6 47.3C378.6 47.33 380.77 47.62 383 47.8C385.23 47.98 387.67 48.17 390 48.4C392.33 48.63 394.67 48.93 397 49.2C399.33 49.47 401.67 49.7 404 50C406.33 50.3 408.67 50.63 411 51C413.33 51.37 416.17 51.78 418 52.2C419.83 52.62 420.67 52.98 422 53.5C423.33 54.02 424.67 54.63 426 55.3C427.33 55.97 428.67 56.88 430 57.5C431.33 58.12 432.83 58.92 434 59C435.17 59.08 436 58.5 437 58C438 57.5 438.83 56.63 440 56C441.17 55.37 442.5 54.67 444 54.2C445.5 53.73 447.33 53.43 449 53.2C450.67 52.97 452.33 52.88 454 52.8C455.67 52.72 457.33 52.72 459 52.7C460.67 52.68 462.5 52.88 464 52.7C465.5 52.52 466.83 51.85 468 51.6C469.17 51.35 470 51.05 471 51.2C472 51.35 473 51.7 474 52.5C475 53.3 476 54.58 477 56C478 57.42 479 59.33 480 61C481 62.67 482 64.5 483 66C484 67.5 484.83 68.87 486 70C487.17 71.13 488.33 71.97 490 72.8C491.67 73.63 494.17 74.37 496 75C497.83 75.63 499.5 76.27 501 76.6C502.5 76.93 503.67 77.07 505 77C506.33 76.93 507.67 76.53 509 76.2C510.33 75.87 511.83 75.33 513 75C514.17 74.67 515.08 74.32 516 74.2C516.92 74.08 517.67 73.92 518.5 74.3C519.33 74.68 520.08 75.38 521 76.5C521.92 77.62 523 79.42 524 81C525 82.58 526 84.42 527 86C528 87.58 529.08 89.43 530 90.5C530.92 91.57 531.67 92.12 532.5 92.4C533.33 92.68 534.25 92.52 535 92.2C535.75 91.88 536.4 91.12 537 90.5C537.6 89.88 538.6 88.5 538.6 88.5" stroke="#0A52FF" stroke-width="2.2"/>
<path d="M214.6 95.5C214.6 95.5 215.77 91.42 216.5 89C217.23 86.58 218.17 82.97 219 81C219.83 79.03 220.83 77.93 221.5 77.2C222.17 76.47 222.42 76.47 223 76.6C223.58 76.73 224.17 76.6 225 78C225.83 79.4 227.08 82.75 228 85C228.92 87.25 229.67 89.93 230.5 91.5C231.33 93.07 232.17 94.15 233 94.4C233.83 94.65 234.67 93.98 235.5 93C236.33 92.02 237.08 89.7 238 88.5C238.92 87.3 240 86.28 241 85.8C242 85.32 242.83 85.5 244 85.6C245.17 85.7 246.83 85.83 248 86.4C249.17 86.97 250 87.48 251 89C252 90.52 253 93.67 254 95.5C255 97.33 256.17 99.17 257 100C257.83 100.83 258.33 100.5 259 100.5C259.67 100.5 260.33 100.58 261 100C261.67 99.42 262.42 98.25 263 97C263.58 95.75 264 93.5 264.5 92.5C265 91.5 265.5 90.92 266 91C266.5 91.08 267 91 267.5 93C268 95 268.53 99.67 269 103C269.47 106.33 269.97 110.83 270.3 113C270.63 115.17 270.75 116 271 116C271.25 116 271.47 115.67 271.8 113C272.13 110.33 272.63 103.5 273 100C273.37 96.5 273.67 93.67 274 92C274.33 90.33 274.62 90 275 90C275.38 90 275.85 91.08 276.3 92C276.75 92.92 277.25 94.83 277.7 95.5C278.15 96.17 278.53 96.25 279 96C279.47 95.75 279.92 95.25 280.5 94C281.08 92.75 281.85 89.73 282.5 88.5C283.15 87.27 283.65 86.68 284.4 86.6C285.15 86.52 285.98 87.27 287 88C288.02 88.73 289.33 90 290.5 91C291.67 92 292.75 92.58 294 94C295.25 95.42 296.67 97.42 298 99.5C299.33 101.58 300.83 103.92 302 106.5C303.17 109.08 304.25 112.67 305 115C305.75 117.33 306.12 119.4 306.5 120.5C306.88 121.6 307 121.77 307.3 121.6C307.6 121.43 307.85 121.1 308.3 119.5C308.75 117.9 309.38 114.25 310 112C310.62 109.75 311.17 107.92 312 106C312.83 104.08 314 101.95 315 100.5C316 99.05 317 98.05 318 97.3C319 96.55 319.67 96.38 321 96C322.33 95.62 324.17 95.38 326 95C327.83 94.62 330.17 94.15 332 93.7C333.83 93.25 335.33 92.82 337 92.3C338.67 91.78 342 90.6 342 90.6C342 90.6 344.33 92.1 346 93.5C347.67 94.9 350.17 97.25 352 99C353.83 100.75 355.33 102.17 357 104C358.67 105.83 360.5 107.83 362 110C363.5 112.17 364.83 114.67 366 117C367.17 119.33 368.08 121.5 369 124C369.92 126.5 370.67 129.17 371.5 132C372.33 134.83 373.15 138 374 141C374.85 144 376.6 150 376.6 150C376.6 150 378.38 144.33 379.2 141C380.02 137.67 380.7 133.33 381.5 130C382.3 126.67 383.08 123.67 384 121C384.92 118.33 386 116 387 114C388 112 388.83 110.5 390 109C391.17 107.5 392.67 106 394 105C395.33 104 396.5 103.53 398 103C399.5 102.47 401.33 102.13 403 101.8C404.67 101.47 406.33 101.18 408 101C409.67 100.82 411.33 100.7 413 100.7C414.67 100.7 416.17 100.78 418 101C419.83 101.22 422.17 101.7 424 102C425.83 102.3 427.33 102.68 429 102.8C430.67 102.92 432.5 102.72 434 102.7C435.5 102.68 436.67 102.48 438 102.7C439.33 102.92 440.67 103.42 442 104C443.33 104.58 444.67 105.28 446 106.2C447.33 107.12 448.67 108.37 450 109.5C451.33 110.63 452.67 111.75 454 113C455.33 114.25 456.67 115.67 458 117C459.33 118.33 460.92 120.03 462 121C463.08 121.97 463.8 122.47 464.5 122.8C465.2 123.13 465.62 123.22 466.2 123C466.78 122.78 467.2 122.47 468 121.5C468.8 120.53 470 118.4 471 117.2C472 116 473 114.97 474 114.3C475 113.63 476 113.42 477 113.2C478 112.98 479 113.12 480 113C481 112.88 482.08 113.08 483 112.5C483.92 111.92 484.67 110.92 485.5 109.5C486.33 108.08 487.08 105.92 488 104C488.92 102.08 490 99.83 491 98C492 96.17 492.83 94.37 494 93C495.17 91.63 496.67 90.53 498 89.8C499.33 89.07 500.67 88.73 502 88.6C503.33 88.47 504.5 88.72 506 89C507.5 89.28 509.33 89.8 511 90.3C512.67 90.8 514.5 91.47 516 92C517.5 92.53 518.67 92.87 520 93.5C521.33 94.13 522.67 94.88 524 95.8C525.33 96.72 526.83 97.8 528 99C529.17 100.2 530 101.67 531 103C532 104.33 533.08 106.03 534 107C534.92 107.97 535.73 108.47 536.5 108.8C537.27 109.13 538.6 109 538.6 109" stroke="#D84C10" stroke-width="2.2"/>
</g>
<circle cx="376.6" cy="47.3" r="3.8" fill="none" stroke="#0A52FF" stroke-width="2"/>
<circle cx="376.6" cy="147.2" r="3.8" fill="none" stroke="#D84C10" stroke-width="2"/>
<line x1="214.3" y1="20.7" x2="538.9" y2="20.7" stroke="#555" stroke-width="1.3"/>
<line x1="214.3" y1="152" x2="538.9" y2="152" stroke="#555" stroke-width="1.3"/>
<line x1="295.45" y1="20.7" x2="295.45" y2="24.8" stroke="#111" stroke-width="0.9"/>
<line x1="295.45" y1="152" x2="295.45" y2="147.9" stroke="#111" stroke-width="0.9"/>
<line x1="376.6" y1="20.7" x2="376.6" y2="24.8" stroke="#111" stroke-width="0.9"/>
<line x1="376.6" y1="152" x2="376.6" y2="147.9" stroke="#111" stroke-width="0.9"/>
<line x1="457.75" y1="20.7" x2="457.75" y2="24.8" stroke="#111" stroke-width="0.9"/>
<line x1="457.75" y1="152" x2="457.75" y2="147.9" stroke="#111" stroke-width="0.9"/>
<line x1="214.3" y1="20.1" x2="214.3" y2="152.6" stroke="#0A52FF" stroke-width="1.7"/>
<line x1="214.3" y1="47.3" x2="217.7" y2="47.3" stroke="#0A52FF" stroke-width="1.2"/>
<text x="211.2" y="51.7" text-anchor="end" font-family="Liberation Sans, sans-serif" text-rendering="geometricPrecision" font-size="12.7" fill="#0A52FF" stroke="#0A52FF" stroke-width="0.25">0</text>
<line x1="214.3" y1="69.1" x2="217.7" y2="69.1" stroke="#0A52FF" stroke-width="1.2"/>
<text x="211.2" y="73.5" text-anchor="end" font-family="Liberation Sans, sans-serif" text-rendering="geometricPrecision" font-size="12.7" fill="#0A52FF" stroke="#0A52FF" stroke-width="0.25">-0.5</text>
<line x1="214.3" y1="90.9" x2="217.7" y2="90.9" stroke="#0A52FF" stroke-width="1.2"/>
<text x="211.2" y="95.3" text-anchor="end" font-family="Liberation Sans, sans-serif" text-rendering="geometricPrecision" font-size="12.7" fill="#0A52FF" stroke="#0A52FF" stroke-width="0.25">-1</text>
<line x1="214.3" y1="112.7" x2="217.7" y2="112.7" stroke="#0A52FF" stroke-width="1.2"/>
<text x="211.2" y="117.1" text-anchor="end" font-family="Liberation Sans, sans-serif" text-rendering="geometricPrecision" font-size="12.7" fill="#0A52FF" stroke="#0A52FF" stroke-width="0.25">-1.5</text>
<line x1="214.3" y1="134.5" x2="217.7" y2="134.5" stroke="#0A52FF" stroke-width="1.2"/>
<text x="211.2" y="138.9" text-anchor="end" font-family="Liberation Sans, sans-serif" text-rendering="geometricPrecision" font-size="12.7" fill="#0A52FF" stroke="#0A52FF" stroke-width="0.25">-2</text>
<line x1="538.9" y1="20.1" x2="538.9" y2="152.6" stroke="#E8996F" stroke-width="1.6"/>
<line x1="535.3" y1="47.3" x2="538.9" y2="47.3" stroke="#D84C10" stroke-width="1.1"/>
<text x="541.2" y="51.7" font-family="Liberation Sans, sans-serif" text-rendering="geometricPrecision" font-size="12.7" fill="#D84C10" stroke="#D84C10" stroke-width="0.25">0</text>
<line x1="535.3" y1="70.65" x2="538.9" y2="70.65" stroke="#D84C10" stroke-width="1.1"/>
<text x="541.2" y="75.05" font-family="Liberation Sans, sans-serif" text-rendering="geometricPrecision" font-size="12.7" fill="#D84C10" stroke="#D84C10" stroke-width="0.25">-10</text>
<line x1="535.3" y1="94" x2="538.9" y2="94" stroke="#D84C10" stroke-width="1.1"/>
<text x="541.2" y="98.4" font-family="Liberation Sans, sans-serif" text-rendering="geometricPrecision" font-size="12.7" fill="#D84C10" stroke="#D84C10" stroke-width="0.25">-20</text>
<line x1="535.3" y1="117.35" x2="538.9" y2="117.35" stroke="#D84C10" stroke-width="1.1"/>
<text x="541.2" y="121.75" font-family="Liberation Sans, sans-serif" text-rendering="geometricPrecision" font-size="12.7" fill="#D84C10" stroke="#D84C10" stroke-width="0.25">-30</text>
<line x1="535.3" y1="140.7" x2="538.9" y2="140.7" stroke="#D84C10" stroke-width="1.1"/>
<text x="541.2" y="145.1" font-family="Liberation Sans, sans-serif" text-rendering="geometricPrecision" font-size="12.7" fill="#D84C10" stroke="#D84C10" stroke-width="0.25">-40</text>
<clipPath id="cc1"><rect x="214.3" y="159.5" width="324.6" height="130.3"/></clipPath>
<line x1="218.65" y1="185.4" x2="538.9" y2="185.4" stroke="#000" stroke-width="1.7" stroke-dasharray="1.3 3.34"/>
<g clip-path="url(#cc1)" fill="none" stroke-linejoin="round" stroke-linecap="round">
<path d="M219.3 293C219.3 293 220.05 287.5 220.5 284C220.95 280.5 221.53 275.08 222 272C222.47 268.92 222.9 266.9 223.3 265.5C223.7 264.1 224.02 263.52 224.4 263.6C224.78 263.68 225.17 264.6 225.6 266C226.03 267.4 226.43 269.5 227 272C227.57 274.5 228.28 277.5 229 281C229.72 284.5 231.3 293 231.3 293M239.3 293C239.3 293 240.38 283.17 241 278C241.62 272.83 242.45 265.67 243 262C243.55 258.33 243.93 257.27 244.3 256C244.67 254.73 244.88 254.23 245.2 254.4C245.52 254.57 245.82 255.23 246.2 257C246.58 258.77 247.03 262 247.5 265C247.97 268 248.58 272.67 249 275C249.42 277.33 250 279 250 279C250 279 250.47 277 250.8 273C251.13 269 251.58 260.5 252 255C252.42 249.5 252.8 244.33 253.3 240C253.8 235.67 254.38 232.08 255 229C255.62 225.92 256.33 223.67 257 221.5C257.67 219.33 258.33 217.65 259 216C259.67 214.35 260.33 212.82 261 211.6C261.67 210.38 262.33 209.37 263 208.7C263.67 208.03 264.33 207.6 265 207.6C265.67 207.6 266.17 207.97 267 208.7C267.83 209.43 269 210.95 270 212C271 213.05 272 214.27 273 215C274 215.73 275.17 216.48 276 216.4C276.83 216.32 277.17 215.9 278 214.5C278.83 213.1 280 210 281 208C282 206 283 204 284 202.5C285 201 286 199.75 287 199C288 198.25 289.17 197.83 290 198C290.83 198.17 291.25 198.92 292 200C292.75 201.08 293.67 203.17 294.5 204.5C295.33 205.83 296.25 207.25 297 208C297.75 208.75 298.25 209.08 299 209C299.75 208.92 300.67 208.33 301.5 207.5C302.33 206.67 303.08 205.08 304 204C304.92 202.92 306 201.67 307 201C308 200.33 309.12 200.03 310 200C310.88 199.97 311.72 200.63 312.3 200.8C312.88 200.97 313.5 201 313.5 201C313.5 201 314.08 198.17 314.5 197C314.92 195.83 315.42 194.8 316 194C316.58 193.2 317.42 192.53 318 192.2C318.58 191.87 318.92 191.87 319.5 192C320.08 192.13 320.92 192.58 321.5 193C322.08 193.42 322.53 194.08 323 194.5C323.47 194.92 324.3 195.5 324.3 195.5C324.3 195.5 325.22 194.03 326 193C326.78 191.97 328 190.22 329 189.3C330 188.38 330.83 187.88 332 187.5C333.17 187.12 334.5 186.95 336 187C337.5 187.05 339.33 187.53 341 187.8C342.67 188.07 344 188.4 346 188.6C348 188.8 350.67 188.93 353 189C355.33 189.07 358.17 189.17 360 189C361.83 188.83 362.67 188.38 364 188C365.33 187.62 366.67 187 368 186.7C369.33 186.4 370.57 186.32 372 186.2C373.43 186.08 374.93 185.87 376.6 186C378.27 186.13 380.1 186.6 382 187C383.9 187.4 386 188.05 388 188.4C390 188.75 392 188.93 394 189.1C396 189.27 398.17 189.47 400 189.4C401.83 189.33 403.33 189 405 188.7C406.67 188.4 408.5 187.92 410 187.6C411.5 187.28 412.78 186.97 414 186.8C415.22 186.63 416.13 186.43 417.3 186.6C418.47 186.77 419.88 187.35 421 187.8C422.12 188.25 423 188.9 424 189.3C425 189.7 425.83 190.02 427 190.2C428.17 190.38 429.5 190.35 431 190.4C432.5 190.45 434.5 190.27 436 190.5C437.5 190.73 438.67 191.28 440 191.8C441.33 192.32 442.5 192.95 444 193.6C445.5 194.25 447.33 194.97 449 195.7C450.67 196.43 452.67 197.28 454 198C455.33 198.72 456 199.17 457 200C458 200.83 459 201.75 460 203C461 204.25 462 205.83 463 207.5C464 209.17 465.08 211.17 466 213C466.92 214.83 467.75 216.92 468.5 218.5C469.25 220.08 469.92 221.65 470.5 222.5C471.08 223.35 471.5 223.68 472 223.6C472.5 223.52 472.92 223.02 473.5 222C474.08 220.98 474.75 219.33 475.5 217.5C476.25 215.67 477.08 212.92 478 211C478.92 209.08 480 207.37 481 206C482 204.63 483 203.63 484 202.8C485 201.97 485.92 201.4 487 201C488.08 200.6 489.33 200.37 490.5 200.4C491.67 200.43 492.92 200.68 494 201.2C495.08 201.72 496 202.37 497 203.5C498 204.63 499 206.08 500 208C501 209.92 502 212 503 215C504 218 505.08 222.17 506 226C506.92 229.83 507.67 234 508.5 238C509.33 242 510.25 247 511 250C511.75 253 512.42 254.83 513 256C513.58 257.17 514 257.25 514.5 257C515 256.75 515.42 256.17 516 254.5C516.58 252.83 517.17 250.08 518 247C518.83 243.92 520 239.25 521 236C522 232.75 523 229.92 524 227.5C525 225.08 525.83 223.5 527 221.5C528.17 219.5 529.67 217.17 531 215.5C532.33 213.83 533.73 212.5 535 211.5C536.27 210.5 538.6 209.5 538.6 209.5" stroke="#0A52FF" stroke-width="2.2"/>
<path d="M214.6 229.5C214.6 229.5 215.52 227 216 226C216.48 225 217 224 217.5 223.5C218 223 218.53 222.83 219 223C219.47 223.17 219.8 222.83 220.3 224.5C220.8 226.17 221.38 229.75 222 233C222.62 236.25 223.42 241 224 244C224.58 247 225.1 249.4 225.5 251C225.9 252.6 226.07 253.52 226.4 253.6C226.73 253.68 226.9 253.27 227.5 251.5C228.1 249.73 229.17 245.33 230 243C230.83 240.67 231.67 239.17 232.5 237.5C233.33 235.83 234.17 234.67 235 233C235.83 231.33 236.78 229.17 237.5 227.5C238.22 225.83 238.82 223.98 239.3 223C239.78 222.02 239.98 221.68 240.4 221.6C240.82 221.52 241.28 221.6 241.8 222.5C242.32 223.4 242.92 225.17 243.5 227C244.08 228.83 244.78 230.67 245.3 233.5C245.82 236.33 246.22 239.58 246.6 244C246.98 248.42 247.3 255 247.6 260C247.9 265 248.2 271.17 248.4 274C248.6 276.83 248.8 277 248.8 277C248.8 277 249.17 273.83 249.4 270C249.63 266.17 249.9 259 250.2 254C250.5 249 250.9 243.17 251.2 240C251.5 236.83 251.77 236 252 235C252.23 234 252.37 233.97 252.6 234C252.83 234.03 253.1 234.77 253.4 235.2C253.7 235.63 254.4 236.6 254.4 236.6C254.4 236.6 255.23 235.57 256 234.8C256.77 234.03 258 232.75 259 232C260 231.25 261.1 230.67 262 230.3C262.9 229.93 263.57 229.75 264.4 229.8C265.23 229.85 266.07 230.07 267 230.6C267.93 231.13 269 231.93 270 233C271 234.07 272.08 235.58 273 237C273.92 238.42 274.75 239.92 275.5 241.5C276.25 243.08 276.92 245.03 277.5 246.5C278.08 247.97 278.62 249.55 279 250.3C279.38 251.05 279.8 251 279.8 251C279.8 251 280.47 249.17 281 248C281.53 246.83 282.17 245.42 283 244C283.83 242.58 284.83 241.17 286 239.5C287.17 237.83 288.67 235.5 290 234C291.33 232.5 292.77 231.28 294 230.5C295.23 229.72 296.32 229.3 297.4 229.3C298.48 229.3 299.4 229.72 300.5 230.5C301.6 231.28 302.83 232.75 304 234C305.17 235.25 306.5 236.83 307.5 238C308.5 239.17 309.33 240.37 310 241C310.67 241.63 311 241.87 311.5 241.8C312 241.73 312.53 240.85 313 240.6C313.47 240.35 313.88 240.15 314.3 240.3C314.72 240.45 314.97 240.63 315.5 241.5C316.03 242.37 316.83 244.17 317.5 245.5C318.17 246.83 318.83 248.48 319.5 249.5C320.17 250.52 320.92 251.27 321.5 251.6C322.08 251.93 322.5 251.85 323 251.5C323.5 251.15 324.07 249.98 324.5 249.5C324.93 249.02 325.18 248.6 325.6 248.6C326.02 248.6 326.43 248.88 327 249.5C327.57 250.12 328.17 251.38 329 252.3C329.83 253.22 330.83 254.15 332 255C333.17 255.85 334.83 257.18 336 257.4C337.17 257.62 338 256.8 339 256.3C340 255.8 340.83 255 342 254.4C343.17 253.8 344.5 253.1 346 252.7C347.5 252.3 349.33 252 351 252C352.67 252 354.33 252.4 356 252.7C357.67 253 359.5 253.42 361 253.8C362.5 254.18 363.67 254.42 365 255C366.33 255.58 367.67 256.3 369 257.3C370.33 258.3 371.73 259.72 373 261C374.27 262.28 375.52 263.75 376.6 265C377.68 266.25 378.6 267.58 379.5 268.5C380.4 269.42 381.08 270.08 382 270.5C382.92 270.92 384 271.08 385 271C386 270.92 387 270.33 388 270C389 269.67 390.08 268.95 391 269C391.92 269.05 392.67 269.47 393.5 270.3C394.33 271.13 395.08 272.38 396 274C396.92 275.62 398.08 278.17 399 280C399.92 281.83 400.75 283.78 401.5 285C402.25 286.22 402.95 286.92 403.5 287.3C404.05 287.68 404.3 287.77 404.8 287.3C405.3 286.83 405.8 285.88 406.5 284.5C407.2 283.12 408.08 280.92 409 279C409.92 277.08 411.08 274.75 412 273C412.92 271.25 413.62 269.75 414.5 268.5C415.38 267.25 416.38 266.42 417.3 265.5C418.22 264.58 419.05 264 420 263C420.95 262 422 260.75 423 259.5C424 258.25 425 256.83 426 255.5C427 254.17 428 252.67 429 251.5C430 250.33 431 249.37 432 248.5C433 247.63 433.83 246.92 435 246.3C436.17 245.68 437.83 245.12 439 244.8C440.17 244.48 440.83 244.4 442 244.4C443.17 244.4 444.67 244.58 446 244.8C447.33 245.02 448.67 245.43 450 245.7C451.33 245.97 452.5 246.25 454 246.4C455.5 246.55 457.5 246.53 459 246.6C460.5 246.67 461.83 246.6 463 246.8C464.17 247 465.08 247.27 466 247.8C466.92 248.33 467.75 248.97 468.5 250C469.25 251.03 469.83 252.17 470.5 254C471.17 255.83 471.87 258 472.5 261C473.13 264 473.8 268.83 474.3 272C474.8 275.17 475.22 278.42 475.5 280C475.78 281.58 476 281.5 476 281.5C476 281.5 476.37 280.25 476.7 278C477.03 275.75 477.45 271.08 478 268C478.55 264.92 479.25 262 480 259.5C480.75 257 481.67 254.92 482.5 253C483.33 251.08 484.08 249.58 485 248C485.92 246.42 486.83 245.08 488 243.5C489.17 241.92 490.67 240.05 492 238.5C493.33 236.95 494.67 235.48 496 234.2C497.33 232.92 498.67 231.83 500 230.8C501.33 229.77 502.83 228.68 504 228C505.17 227.32 506.08 226.95 507 226.7C507.92 226.45 508.67 226.32 509.5 226.5C510.33 226.68 511.17 227.05 512 227.8C512.83 228.55 513.67 229.63 514.5 231C515.33 232.37 516.17 234.17 517 236C517.83 237.83 518.67 239.58 519.5 242C520.33 244.42 521.25 247.5 522 250.5C522.75 253.5 523.33 256.25 524 260C524.67 263.75 525.43 269 526 273C526.57 277 527.03 280.67 527.4 284C527.77 287.33 528.2 293 528.2 293M530.2 293C530.2 293 530.62 287.17 531 284C531.38 280.83 531.92 277.25 532.5 274C533.08 270.75 533.83 267.17 534.5 264.5C535.17 261.83 535.82 259.83 536.5 258C537.18 256.17 538.6 253.5 538.6 253.5" stroke="#D84C10" stroke-width="2.2"/>
</g>
<circle cx="336.02" cy="187" r="3.8" fill="none" stroke="#0A52FF" stroke-width="2"/>
<circle cx="336.02" cy="257.4" r="3.8" fill="none" stroke="#D84C10" stroke-width="2"/>
<circle cx="376.6" cy="186" r="3.8" fill="none" stroke="#0A52FF" stroke-width="2"/>
<circle cx="376.6" cy="265" r="3.8" fill="none" stroke="#D84C10" stroke-width="2"/>
<circle cx="417.17" cy="186.6" r="3.8" fill="none" stroke="#0A52FF" stroke-width="2"/>
<circle cx="417.17" cy="265.6" r="3.8" fill="none" stroke="#D84C10" stroke-width="2"/>
<line x1="214.3" y1="159.5" x2="538.9" y2="159.5" stroke="#555" stroke-width="1.3"/>
<line x1="214.3" y1="289.8" x2="538.9" y2="289.8" stroke="#555" stroke-width="1.3"/>
<line x1="295.45" y1="159.5" x2="295.45" y2="163.6" stroke="#111" stroke-width="0.9"/>
<line x1="295.45" y1="289.8" x2="295.45" y2="285.7" stroke="#111" stroke-width="0.9"/>
<line x1="376.6" y1="159.5" x2="376.6" y2="163.6" stroke="#111" stroke-width="0.9"/>
<line x1="376.6" y1="289.8" x2="376.6" y2="285.7" stroke="#111" stroke-width="0.9"/>
<line x1="457.75" y1="159.5" x2="457.75" y2="163.6" stroke="#111" stroke-width="0.9"/>
<line x1="457.75" y1="289.8" x2="457.75" y2="285.7" stroke="#111" stroke-width="0.9"/>
<line x1="214.3" y1="158.9" x2="214.3" y2="290.4" stroke="#0A52FF" stroke-width="1.7"/>
<line x1="214.3" y1="185.4" x2="217.7" y2="185.4" stroke="#0A52FF" stroke-width="1.2"/>
<text x="211.2" y="189.8" text-anchor="end" font-family="Liberation Sans, sans-serif" text-rendering="geometricPrecision" font-size="12.7" fill="#0A52FF" stroke="#0A52FF" stroke-width="0.25">0</text>
<line x1="214.3" y1="207.2" x2="217.7" y2="207.2" stroke="#0A52FF" stroke-width="1.2"/>
<text x="211.2" y="211.6" text-anchor="end" font-family="Liberation Sans, sans-serif" text-rendering="geometricPrecision" font-size="12.7" fill="#0A52FF" stroke="#0A52FF" stroke-width="0.25">-0.5</text>
<line x1="214.3" y1="229" x2="217.7" y2="229" stroke="#0A52FF" stroke-width="1.2"/>
<text x="211.2" y="233.4" text-anchor="end" font-family="Liberation Sans, sans-serif" text-rendering="geometricPrecision" font-size="12.7" fill="#0A52FF" stroke="#0A52FF" stroke-width="0.25">-1</text>
<line x1="214.3" y1="250.8" x2="217.7" y2="250.8" stroke="#0A52FF" stroke-width="1.2"/>
<text x="211.2" y="255.2" text-anchor="end" font-family="Liberation Sans, sans-serif" text-rendering="geometricPrecision" font-size="12.7" fill="#0A52FF" stroke="#0A52FF" stroke-width="0.25">-1.5</text>
<line x1="214.3" y1="272.6" x2="217.7" y2="272.6" stroke="#0A52FF" stroke-width="1.2"/>
<text x="211.2" y="277" text-anchor="end" font-family="Liberation Sans, sans-serif" text-rendering="geometricPrecision" font-size="12.7" fill="#0A52FF" stroke="#0A52FF" stroke-width="0.25">-2</text>
<line x1="538.9" y1="158.9" x2="538.9" y2="290.4" stroke="#E8996F" stroke-width="1.6"/>
<line x1="535.3" y1="185.4" x2="538.9" y2="185.4" stroke="#D84C10" stroke-width="1.1"/>
<text x="541.2" y="189.8" font-family="Liberation Sans, sans-serif" text-rendering="geometricPrecision" font-size="12.7" fill="#D84C10" stroke="#D84C10" stroke-width="0.25">0</text>
<line x1="535.3" y1="208.75" x2="538.9" y2="208.75" stroke="#D84C10" stroke-width="1.1"/>
<text x="541.2" y="213.15" font-family="Liberation Sans, sans-serif" text-rendering="geometricPrecision" font-size="12.7" fill="#D84C10" stroke="#D84C10" stroke-width="0.25">-10</text>
<line x1="535.3" y1="232.1" x2="538.9" y2="232.1" stroke="#D84C10" stroke-width="1.1"/>
<text x="541.2" y="236.5" font-family="Liberation Sans, sans-serif" text-rendering="geometricPrecision" font-size="12.7" fill="#D84C10" stroke="#D84C10" stroke-width="0.25">-20</text>
<line x1="535.3" y1="255.45" x2="538.9" y2="255.45" stroke="#D84C10" stroke-width="1.1"/>
<text x="541.2" y="259.85" font-family="Liberation Sans, sans-serif" text-rendering="geometricPrecision" font-size="12.7" fill="#D84C10" stroke="#D84C10" stroke-width="0.25">-30</text>
<line x1="535.3" y1="278.8" x2="538.9" y2="278.8" stroke="#D84C10" stroke-width="1.1"/>
<text x="541.2" y="283.2" font-family="Liberation Sans, sans-serif" text-rendering="geometricPrecision" font-size="12.7" fill="#D84C10" stroke="#D84C10" stroke-width="0.25">-40</text>
<clipPath id="cc2"><rect x="214.3" y="297.6" width="324.6" height="130.4"/></clipPath>
<line x1="218.65" y1="323.9" x2="538.9" y2="323.9" stroke="#000" stroke-width="1.7" stroke-dasharray="1.3 3.34"/>
<g clip-path="url(#cc2)" fill="none" stroke-linejoin="round" stroke-linecap="round">
<path d="M214.6 384.5C214.6 384.5 215.52 387.42 216 390C216.48 392.58 217 396.17 217.5 400C218 403.83 218.53 409.42 219 413C219.47 416.58 219.93 419.73 220.3 421.5C220.67 423.27 220.87 423.52 221.2 423.6C221.53 423.68 221.92 423.43 222.3 422C222.68 420.57 223.05 418.17 223.5 415C223.95 411.83 224.45 407.17 225 403C225.55 398.83 226.22 394 226.8 390C227.38 386 227.97 381.92 228.5 379C229.03 376.08 229.52 374.03 230 372.5C230.48 370.97 230.98 369.97 231.4 369.8C231.82 369.63 232.1 369.8 232.5 371.5C232.9 373.2 233.35 376.42 233.8 380C234.25 383.58 234.78 389.42 235.2 393C235.62 396.58 236.03 399.92 236.3 401.5C236.57 403.08 236.8 402.5 236.8 402.5C236.8 402.5 237.2 401.08 237.5 399C237.8 396.92 238.25 392.33 238.6 390C238.95 387.67 239.32 385.5 239.6 385C239.88 384.5 240.03 384.83 240.3 387C240.57 389.17 240.92 394.17 241.2 398C241.48 401.83 241.77 407.3 242 410C242.23 412.7 242.6 414.2 242.6 414.2C242.6 414.2 242.98 412.7 243.3 409C243.62 405.3 244.05 397.33 244.5 392C244.95 386.67 245.5 380.83 246 377C246.5 373.17 247 370.83 247.5 369C248 367.17 248.55 366.08 249 366C249.45 365.92 249.78 366.5 250.2 368.5C250.62 370.5 251.07 373.42 251.5 378C251.93 382.58 252.42 390 252.8 396C253.18 402 253.52 409.78 253.8 414C254.08 418.22 254.5 421.3 254.5 421.3C254.5 421.3 254.92 416.88 255.2 412C255.48 407.12 255.82 399.33 256.2 392C256.58 384.67 257.03 374.5 257.5 368C257.97 361.5 258.5 356.75 259 353C259.5 349.25 260 347.5 260.5 345.5C261 343.5 261.53 342 262 341C262.47 340 262.87 339.5 263.3 339.5C263.73 339.5 264.15 340 264.6 341C265.05 342 265.52 343.75 266 345.5C266.48 347.25 267.08 350.12 267.5 351.5C267.92 352.88 268.15 353.88 268.5 353.8C268.85 353.72 269.18 352.47 269.6 351C270.02 349.53 270.52 346.92 271 345C271.48 343.08 272 341.08 272.5 339.5C273 337.92 273.42 336.58 274 335.5C274.58 334.42 275.17 333.75 276 333C276.83 332.25 278 331.62 279 331C280 330.38 280.83 329.83 282 329.3C283.17 328.77 284.67 328.22 286 327.8C287.33 327.38 288.4 327.03 290 326.8C291.6 326.57 293.93 326.38 295.6 326.4C297.27 326.42 298.6 326.63 300 326.9C301.4 327.17 302.67 327.48 304 328C305.33 328.52 306.67 329.2 308 330C309.33 330.8 310.67 331.83 312 332.8C313.33 333.77 314.67 334.85 316 335.8C317.33 336.75 318.92 337.63 320 338.5C321.08 339.37 321.67 339.92 322.5 341C323.33 342.08 324.33 343.83 325 345C325.67 346.17 326.07 347.33 326.5 348C326.93 348.67 327.6 349 327.6 349C327.6 349 328.32 347.25 328.8 346C329.28 344.75 329.88 342.73 330.5 341.5C331.12 340.27 331.75 339.27 332.5 338.6C333.25 337.93 334.08 337.63 335 337.5C335.92 337.37 337 337.67 338 337.8C339 337.93 340 338.22 341 338.3C342 338.38 343.08 338.42 344 338.3C344.92 338.18 345.67 338.07 346.5 337.6C347.33 337.13 348.17 336.27 349 335.5C349.83 334.73 350.67 333.63 351.5 333C352.33 332.37 353.08 331.93 354 331.7C354.92 331.47 356 331.65 357 331.6C358 331.55 358.83 331.63 360 331.4C361.17 331.17 362.67 330.6 364 330.2C365.33 329.8 366.67 329.38 368 329C369.33 328.62 370.57 328.17 372 327.9C373.43 327.63 375.27 327.4 376.6 327.4C377.93 327.4 378.77 327.6 380 327.9C381.23 328.2 382.67 328.65 384 329.2C385.33 329.75 386.83 330.6 388 331.2C389.17 331.8 390 332.33 391 332.8C392 333.27 393 333.73 394 334C395 334.27 396 334.47 397 334.4C398 334.33 399 333.88 400 333.6C401 333.32 402.08 332.83 403 332.7C403.92 332.57 404.67 332.63 405.5 332.8C406.33 332.97 407.08 333.33 408 333.7C408.92 334.07 410 334.58 411 335C412 335.42 412.83 335.92 414 336.2C415.17 336.48 416.67 336.77 418 336.7C419.33 336.63 420.67 336.17 422 335.8C423.33 335.43 424.67 334.97 426 334.5C427.33 334.03 428.67 333.45 430 333C431.33 332.55 432.67 332.12 434 331.8C435.33 331.48 436.67 331.17 438 331.1C439.33 331.03 440.67 331.35 442 331.4C443.33 331.45 444.83 331.55 446 331.4C447.17 331.25 448 330.9 449 330.5C450 330.1 451 329.43 452 329C453 328.57 454 328.17 455 327.9C456 327.63 457 327.35 458 327.4C459 327.45 460 327.8 461 328.2C462 328.6 463 329.28 464 329.8C465 330.32 466 331 467 331.3C468 331.6 469.08 331.62 470 331.6C470.92 331.58 471.67 331.2 472.5 331.2C473.33 331.2 474.08 331.25 475 331.6C475.92 331.95 476.83 332.6 478 333.3C479.17 334 480.67 335.07 482 335.8C483.33 336.53 484.67 337.13 486 337.7C487.33 338.27 488.67 338.78 490 339.2C491.33 339.62 492.5 339.97 494 340.2C495.5 340.43 497.33 340.68 499 340.6C500.67 340.52 502.33 340.08 504 339.7C505.67 339.32 507.33 338.78 509 338.3C510.67 337.82 512.5 337.17 514 336.8C515.5 336.43 516.83 336.23 518 336.1C519.17 335.97 520 335.88 521 336C522 336.12 523 336.38 524 336.8C525 337.22 526 337.85 527 338.5C528 339.15 529 339.9 530 340.7C531 341.5 532 342.45 533 343.3C534 344.15 535.07 345.1 536 345.8C536.93 346.5 538.6 347.5 538.6 347.5" stroke="#0A52FF" stroke-width="2.2"/>
<path d="M214.6 366.3C214.6 366.3 215.52 367.13 216 368C216.48 368.87 217.05 370 217.5 371.5C217.95 373 218.32 375.38 218.7 377C219.08 378.62 219.5 380.62 219.8 381.2C220.1 381.78 220.22 381.45 220.5 380.5C220.78 379.55 221.08 377.42 221.5 375.5C221.92 373.58 222.5 370.55 223 369C223.5 367.45 224 366.83 224.5 366.2C225 365.57 225.42 365.47 226 365.2C226.58 364.93 227.33 364.87 228 364.6C228.67 364.33 229.42 364.12 230 363.6C230.58 363.08 231 362.43 231.5 361.5C232 360.57 232.53 358.92 233 358C233.47 357.08 233.93 356.38 234.3 356C234.67 355.62 234.88 355.48 235.2 355.7C235.52 355.92 235.87 356.25 236.2 357.3C236.53 358.35 236.87 359.88 237.2 362C237.53 364.12 237.87 367 238.2 370C238.53 373 238.9 377.17 239.2 380C239.5 382.83 239.78 385.58 240 387C240.22 388.42 240.5 388.5 240.5 388.5C240.5 388.5 240.82 387.25 241.1 385C241.38 382.75 241.83 377.92 242.2 375C242.57 372.08 242.93 369.25 243.3 367.5C243.67 365.75 243.98 364.92 244.4 364.5C244.82 364.08 245.28 364.63 245.8 365C246.32 365.37 246.97 366.37 247.5 366.7C248.03 367.03 248.5 367.15 249 367C249.5 366.85 250.03 366.55 250.5 365.8C250.97 365.05 251.38 363.88 251.8 362.5C252.22 361.12 252.6 358.87 253 357.5C253.4 356.13 253.85 354.95 254.2 354.3C254.55 353.65 254.77 353.4 255.1 353.6C255.43 353.8 255.72 354.18 256.2 355.5C256.68 356.82 257.37 359.67 258 361.5C258.63 363.33 259.33 365.03 260 366.5C260.67 367.97 261.42 369.25 262 370.3C262.58 371.35 263.08 372.27 263.5 372.8C263.92 373.33 264.12 373.72 264.5 373.5C264.88 373.28 265.3 372.5 265.8 371.5C266.3 370.5 266.92 368.53 267.5 367.5C268.08 366.47 268.75 365.8 269.3 365.3C269.85 364.8 270.27 364.47 270.8 364.5C271.33 364.53 271.63 364.62 272.5 365.5C273.37 366.38 274.75 368.47 276 369.8C277.25 371.13 278.67 372.3 280 373.5C281.33 374.7 282.67 375.83 284 377C285.33 378.17 286.67 379.42 288 380.5C289.33 381.58 290.73 382.75 292 383.5C293.27 384.25 294.68 385.17 295.6 385C296.52 384.83 296.85 383.5 297.5 382.5C298.15 381.5 298.83 379.92 299.5 379C300.17 378.08 300.82 377.43 301.5 377C302.18 376.57 302.93 376.32 303.6 376.4C304.27 376.48 304.77 376.85 305.5 377.5C306.23 378.15 307.08 379.25 308 380.3C308.92 381.35 310.1 382.95 311 383.8C311.9 384.65 312.65 385.45 313.4 385.4C314.15 385.35 314.73 384.57 315.5 383.5C316.27 382.43 317.08 380.78 318 379C318.92 377.22 320.08 374.72 321 372.8C321.92 370.88 322.75 368.87 323.5 367.5C324.25 366.13 324.87 365.22 325.5 364.6C326.13 363.98 327.3 363.8 327.3 363.8C327.3 363.8 328.28 365.1 328.8 366C329.32 366.9 329.87 368.1 330.4 369.2C330.93 370.3 331.48 371.77 332 372.6C332.52 373.43 332.92 374.02 333.5 374.2C334.08 374.38 334.75 374.03 335.5 373.7C336.25 373.37 337.08 372.7 338 372.2C338.92 371.7 340 371.17 341 370.7C342 370.23 343 369.77 344 369.4C345 369.03 346.17 368.67 347 368.5C347.83 368.33 348.33 368.18 349 368.4C349.67 368.62 350.33 369.15 351 369.8C351.67 370.45 352.33 371.63 353 372.3C353.67 372.97 354.17 373.27 355 373.8C355.83 374.33 356.83 374.8 358 375.5C359.17 376.2 360.83 377.13 362 378C363.17 378.87 364 379.7 365 380.7C366 381.7 367 382.7 368 384C369 385.3 370 387 371 388.5C372 390 373.07 391.58 374 393C374.93 394.42 375.85 395.42 376.6 397C377.35 398.58 377.93 400.58 378.5 402.5C379.07 404.42 379.55 406.83 380 408.5C380.45 410.17 380.87 411.62 381.2 412.5C381.53 413.38 381.7 413.72 382 413.8C382.3 413.88 382.62 413.8 383 413C383.38 412.2 383.8 411.08 384.3 409C384.8 406.92 385.38 403.25 386 400.5C386.62 397.75 387.33 394.83 388 392.5C388.67 390.17 389.25 388.25 390 386.5C390.75 384.75 391.67 383.25 392.5 382C393.33 380.75 394.08 379.85 395 379C395.92 378.15 396.83 377.57 398 376.9C399.17 376.23 400.67 375.55 402 375C403.33 374.45 404.67 373.97 406 373.6C407.33 373.23 408.75 373 410 372.8C411.25 372.6 412.33 372.38 413.5 372.4C414.67 372.42 415.75 372.63 417 372.9C418.25 373.17 419.67 373.53 421 374C422.33 374.47 423.67 375.12 425 375.7C426.33 376.28 427.67 376.88 429 377.5C430.33 378.12 431.67 378.65 433 379.4C434.33 380.15 435.83 381.07 437 382C438.17 382.93 439.08 384.13 440 385C440.92 385.87 441.75 386.73 442.5 387.2C443.25 387.67 443.83 387.83 444.5 387.8C445.17 387.77 445.83 387.25 446.5 387C447.17 386.75 447.83 386.33 448.5 386.3C449.17 386.27 449.75 386.52 450.5 386.8C451.25 387.08 452.17 387.7 453 388C453.83 388.3 454.67 388.48 455.5 388.6C456.33 388.72 457.25 388.88 458 388.7C458.75 388.52 459.33 388.12 460 387.5C460.67 386.88 461.33 385.92 462 385C462.67 384.08 463.33 382.92 464 382C464.67 381.08 465.33 380.25 466 379.5C466.67 378.75 467.17 378.17 468 377.5C468.83 376.83 469.83 376.13 471 375.5C472.17 374.87 473.5 374.33 475 373.7C476.5 373.07 478.33 372.25 480 371.7C481.67 371.15 483.33 370.68 485 370.4C486.67 370.12 488.5 369.95 490 370C491.5 370.05 492.67 370.32 494 370.7C495.33 371.08 496.67 371.7 498 372.3C499.33 372.9 500.67 373.63 502 374.3C503.33 374.97 504.67 375.68 506 376.3C507.33 376.92 508.75 377.6 510 378C511.25 378.4 512.42 378.7 513.5 378.7C514.58 378.7 515.42 378.45 516.5 378C517.58 377.55 518.75 376.92 520 376C521.25 375.08 522.67 373.67 524 372.5C525.33 371.33 526.83 369.97 528 369C529.17 368.03 530 367.37 531 366.7C532 366.03 533.08 365.45 534 365C534.92 364.55 535.73 364.23 536.5 364C537.27 363.77 538.6 363.6 538.6 363.6" stroke="#D84C10" stroke-width="2.2"/>
</g>
<circle cx="295.45" cy="326.4" r="3.8" fill="none" stroke="#0A52FF" stroke-width="2"/>
<circle cx="295.45" cy="383.2" r="3.8" fill="none" stroke="#D84C10" stroke-width="2"/>
<circle cx="376.6" cy="327.4" r="3.8" fill="none" stroke="#0A52FF" stroke-width="2"/>
<circle cx="376.6" cy="397" r="3.8" fill="none" stroke="#D84C10" stroke-width="2"/>
<circle cx="457.75" cy="327.4" r="3.8" fill="none" stroke="#0A52FF" stroke-width="2"/>
<circle cx="457.75" cy="388.7" r="3.8" fill="none" stroke="#D84C10" stroke-width="2"/>
<line x1="214.3" y1="297.6" x2="538.9" y2="297.6" stroke="#555" stroke-width="1.3"/>
<line x1="214.3" y1="428" x2="538.9" y2="428" stroke="#555" stroke-width="1.3"/>
<line x1="295.45" y1="297.6" x2="295.45" y2="301.7" stroke="#111" stroke-width="0.9"/>
<line x1="295.45" y1="428" x2="295.45" y2="423.9" stroke="#111" stroke-width="0.9"/>
<line x1="376.6" y1="297.6" x2="376.6" y2="301.7" stroke="#111" stroke-width="0.9"/>
<line x1="376.6" y1="428" x2="376.6" y2="423.9" stroke="#111" stroke-width="0.9"/>
<line x1="457.75" y1="297.6" x2="457.75" y2="301.7" stroke="#111" stroke-width="0.9"/>
<line x1="457.75" y1="428" x2="457.75" y2="423.9" stroke="#111" stroke-width="0.9"/>
<line x1="214.3" y1="297" x2="214.3" y2="428.6" stroke="#0A52FF" stroke-width="1.7"/>
<line x1="214.3" y1="323.9" x2="217.7" y2="323.9" stroke="#0A52FF" stroke-width="1.2"/>
<text x="211.2" y="328.3" text-anchor="end" font-family="Liberation Sans, sans-serif" text-rendering="geometricPrecision" font-size="12.7" fill="#0A52FF" stroke="#0A52FF" stroke-width="0.25">0</text>
<line x1="214.3" y1="345.7" x2="217.7" y2="345.7" stroke="#0A52FF" stroke-width="1.2"/>
<text x="211.2" y="350.1" text-anchor="end" font-family="Liberation Sans, sans-serif" text-rendering="geometricPrecision" font-size="12.7" fill="#0A52FF" stroke="#0A52FF" stroke-width="0.25">-0.5</text>
<line x1="214.3" y1="367.5" x2="217.7" y2="367.5" stroke="#0A52FF" stroke-width="1.2"/>
<text x="211.2" y="371.9" text-anchor="end" font-family="Liberation Sans, sans-serif" text-rendering="geometricPrecision" font-size="12.7" fill="#0A52FF" stroke="#0A52FF" stroke-width="0.25">-1</text>
<line x1="214.3" y1="389.3" x2="217.7" y2="389.3" stroke="#0A52FF" stroke-width="1.2"/>
<text x="211.2" y="393.7" text-anchor="end" font-family="Liberation Sans, sans-serif" text-rendering="geometricPrecision" font-size="12.7" fill="#0A52FF" stroke="#0A52FF" stroke-width="0.25">-1.5</text>
<line x1="214.3" y1="411.1" x2="217.7" y2="411.1" stroke="#0A52FF" stroke-width="1.2"/>
<text x="211.2" y="415.5" text-anchor="end" font-family="Liberation Sans, sans-serif" text-rendering="geometricPrecision" font-size="12.7" fill="#0A52FF" stroke="#0A52FF" stroke-width="0.25">-2</text>
<line x1="538.9" y1="297" x2="538.9" y2="428.6" stroke="#E8996F" stroke-width="1.6"/>
<line x1="535.3" y1="323.9" x2="538.9" y2="323.9" stroke="#D84C10" stroke-width="1.1"/>
<text x="541.2" y="328.3" font-family="Liberation Sans, sans-serif" text-rendering="geometricPrecision" font-size="12.7" fill="#D84C10" stroke="#D84C10" stroke-width="0.25">0</text>
<line x1="535.3" y1="347.25" x2="538.9" y2="347.25" stroke="#D84C10" stroke-width="1.1"/>
<text x="541.2" y="351.65" font-family="Liberation Sans, sans-serif" text-rendering="geometricPrecision" font-size="12.7" fill="#D84C10" stroke="#D84C10" stroke-width="0.25">-10</text>
<line x1="535.3" y1="370.6" x2="538.9" y2="370.6" stroke="#D84C10" stroke-width="1.1"/>
<text x="541.2" y="375" font-family="Liberation Sans, sans-serif" text-rendering="geometricPrecision" font-size="12.7" fill="#D84C10" stroke="#D84C10" stroke-width="0.25">-20</text>
<line x1="535.3" y1="393.95" x2="538.9" y2="393.95" stroke="#D84C10" stroke-width="1.1"/>
<text x="541.2" y="398.35" font-family="Liberation Sans, sans-serif" text-rendering="geometricPrecision" font-size="12.7" fill="#D84C10" stroke="#D84C10" stroke-width="0.25">-30</text>
<line x1="535.3" y1="417.3" x2="538.9" y2="417.3" stroke="#D84C10" stroke-width="1.1"/>
<text x="541.2" y="421.7" font-family="Liberation Sans, sans-serif" text-rendering="geometricPrecision" font-size="12.7" fill="#D84C10" stroke="#D84C10" stroke-width="0.25">-40</text>
<text x="214.3" y="443.2" text-anchor="middle" font-family="Liberation Sans, sans-serif" text-rendering="geometricPrecision" font-size="12.7" fill="#111" stroke="#111" stroke-width="0.25">1150</text>
<text x="295.45" y="443.2" text-anchor="middle" font-family="Liberation Sans, sans-serif" text-rendering="geometricPrecision" font-size="12.7" fill="#111" stroke="#111" stroke-width="0.25">1350</text>
<text x="376.6" y="443.2" text-anchor="middle" font-family="Liberation Sans, sans-serif" text-rendering="geometricPrecision" font-size="12.7" fill="#111" stroke="#111" stroke-width="0.25">1550</text>
<text x="457.75" y="443.2" text-anchor="middle" font-family="Liberation Sans, sans-serif" text-rendering="geometricPrecision" font-size="12.7" fill="#111" stroke="#111" stroke-width="0.25">1750</text>
<text x="538.9" y="443.2" text-anchor="middle" font-family="Liberation Sans, sans-serif" text-rendering="geometricPrecision" font-size="12.7" fill="#111" stroke="#111" stroke-width="0.25">1950</text>
<text x="376.8" y="460.4" text-anchor="middle" font-family="Liberation Sans, sans-serif" text-rendering="geometricPrecision" font-size="15.6" fill="#000" stroke="#000" stroke-width="0.25">Wavelength, <tspan font-style="italic">λ</tspan> (nm)</text>
<text transform="translate(184.3 226.5) rotate(-90)" text-anchor="middle" font-family="Liberation Sans, sans-serif" text-rendering="geometricPrecision" font-size="15.5" fill="#0A52FF" stroke="#0A52FF" stroke-width="0.25">Excess loss, <tspan font-style="italic">EL</tspan> (dB)</text>
<text transform="translate(562.6 224) rotate(90)" text-anchor="middle" font-family="Liberation Sans, sans-serif" text-rendering="geometricPrecision" font-size="15.5" fill="#D84C10" stroke="#D84C10" stroke-width="0.25">Return loss, <tspan font-style="italic">RL</tspan> (dB)</text>
<line x1="231" y1="69.1" x2="254.1" y2="69.1" stroke="#0A52FF" stroke-width="1.4"/>
<path d="M227.3 69.1L233 66.3L233 71.9Z" fill="#0A52FF"/>
<line x1="499.9" y1="140.5" x2="522" y2="140.5" stroke="#D84C10" stroke-width="1"/>
<path d="M526.3 140.5L520.8 137.9L520.8 143.1Z" fill="#D84C10"/>
<path d="M504.17 28.03A4.2 4.2 0 0 0 498.23 33.97" fill="none" stroke="#0A52FF" stroke-width="2.5"/>
<path d="M498.23 33.97A4.2 4.2 0 0 0 504.17 28.03" fill="none" stroke="#D84C10" stroke-width="2.5"/>
<text x="511.2" y="34.2" font-family="Liberation Sans, sans-serif" text-rendering="geometricPrecision" font-size="12.6" font-style="italic" fill="#000" stroke="#000" stroke-width="0.25">λ</text>
<text x="517.2" y="35.7" font-family="Liberation Sans, sans-serif" text-rendering="geometricPrecision" font-size="12.3" fill="#000" stroke="#000" stroke-width="0.25">opt</text>
</svg>
</body></html>
